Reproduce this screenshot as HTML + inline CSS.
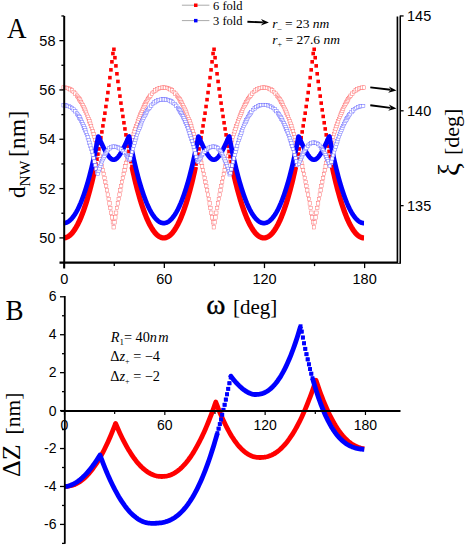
<!DOCTYPE html>
<html><head><meta charset="utf-8"><style>
html,body{margin:0;padding:0;background:#fff;}
body{width:465px;height:545px;position:relative;overflow:hidden;font-family:"Liberation Sans", sans-serif;}
</style></head><body>
<svg width="465" height="545" viewBox="0 0 465 545" style="position:absolute;left:0;top:0"><polyline points="63.60,87.50 64.02,87.50 64.43,87.52 64.85,87.55 65.27,87.59 65.69,87.65 66.10,87.72 66.52,87.81 66.94,87.91 67.36,88.03 67.77,88.17 68.19,88.32 68.61,88.49 69.02,88.68 69.44,88.88 69.86,89.10 70.28,89.34 70.69,89.59 71.11,89.87 71.53,90.16 71.95,90.47 72.36,90.80 72.78,91.14 73.20,91.51 73.61,91.89 74.03,92.30 74.45,92.72 74.87,93.16 75.28,93.62 75.70,94.10 76.12,94.60 76.53,95.12 76.95,95.65 77.37,96.21 77.79,96.79 78.20,97.39 78.62,98.00 79.04,98.64 79.46,99.30 79.87,99.98 80.29,100.67 80.71,101.39 81.12,102.13 81.54,102.89 81.96,103.67 82.38,104.47 82.79,105.29 83.21,106.13 83.63,107.00 84.05,107.88 84.46,108.78 84.88,109.71 85.30,110.66 85.71,111.62 86.13,112.61 86.55,113.62 86.97,114.66 87.38,115.71 87.80,116.78 88.22,117.88 88.64,119.00 89.05,120.14 89.47,121.30 89.89,122.48 90.30,123.69 90.72,124.91 91.14,126.16 91.56,127.43 91.97,128.73 92.39,130.04 92.81,131.38 93.22,132.73 93.64,134.12 94.06,135.52 94.48,136.94 94.89,138.39 95.31,139.86 95.73,141.35 96.15,142.87 96.56,144.41 96.98,145.97 97.40,147.55 97.81,149.15 98.23,150.78 98.65,152.43 99.07,154.11 99.48,155.80 99.90,157.52 100.32,159.26 100.74,161.03 101.15,162.82 101.57,164.63 101.99,166.46 102.40,168.32 102.82,170.20 103.24,172.10 103.66,174.03 104.07,175.98 104.49,177.95 104.91,179.94 105.33,181.96 105.74,184.01 106.16,186.07 106.58,188.16 106.99,190.28 107.41,192.41 107.83,194.57 108.25,196.76 108.66,198.96 109.08,201.19 109.50,203.45 109.91,205.73 110.33,208.03 110.75,210.35 111.17,212.70 111.58,215.08 112.00,217.47 112.42,219.89 112.84,222.34 113.25,224.81 113.67,227.30 114.09,224.81 114.50,222.34 114.92,219.89 115.34,217.47 115.76,215.08 116.17,212.70 116.59,210.35 117.01,208.03 117.43,205.73 117.84,203.45 118.26,201.19 118.68,198.96 119.09,196.76 119.51,194.57 119.93,192.41 120.35,190.28 120.76,188.16 121.18,186.07 121.60,184.01 122.02,181.96 122.43,179.94 122.85,177.95 123.27,175.98 123.68,174.03 124.10,172.10 124.52,170.20 124.94,168.32 125.35,166.46 125.77,164.63 126.19,162.82 126.60,161.03 127.02,159.26 127.44,157.52 127.86,155.80 128.27,154.11 128.69,152.43 129.11,150.78 129.53,149.15 129.94,147.55 130.36,145.97 130.78,144.41 131.19,142.87 131.61,141.35 132.03,139.86 132.45,138.39 132.86,136.94 133.28,135.52 133.70,134.12 134.12,132.73 134.53,131.38 134.95,130.04 135.37,128.73 135.78,127.43 136.20,126.16 136.62,124.91 137.04,123.69 137.45,122.48 137.87,121.30 138.29,120.14 138.71,119.00 139.12,117.88 139.54,116.78 139.96,115.71 140.37,114.66 140.79,113.62 141.21,112.61 141.63,111.62 142.04,110.66 142.46,109.71 142.88,108.78 143.29,107.88 143.71,107.00 144.13,106.13 144.55,105.29 144.96,104.47 145.38,103.67 145.80,102.89 146.22,102.13 146.63,101.39 147.05,100.67 147.47,99.98 147.88,99.30 148.30,98.64 148.72,98.00 149.14,97.39 149.55,96.79 149.97,96.21 150.39,95.65 150.81,95.12 151.22,94.60 151.64,94.10 152.06,93.62 152.47,93.16 152.89,92.72 153.31,92.30 153.73,91.89 154.14,91.51 154.56,91.14 154.98,90.80 155.40,90.47 155.81,90.16 156.23,89.87 156.65,89.59 157.06,89.34 157.48,89.10 157.90,88.88 158.32,88.68 158.73,88.49 159.15,88.32 159.57,88.17 159.98,88.03 160.40,87.91 160.82,87.81 161.24,87.72 161.65,87.65 162.07,87.59 162.49,87.55 162.91,87.52 163.32,87.50 163.74,87.50 164.16,87.50 164.57,87.52 164.99,87.55 165.41,87.59 165.83,87.65 166.24,87.72 166.66,87.81 167.08,87.91 167.50,88.03 167.91,88.17 168.33,88.32 168.75,88.49 169.16,88.68 169.58,88.88 170.00,89.10 170.42,89.34 170.83,89.59 171.25,89.87 171.67,90.16 172.09,90.47 172.50,90.80 172.92,91.14 173.34,91.51 173.75,91.89 174.17,92.30 174.59,92.72 175.01,93.16 175.42,93.62 175.84,94.10 176.26,94.60 176.67,95.12 177.09,95.65 177.51,96.21 177.93,96.79 178.34,97.39 178.76,98.00 179.18,98.64 179.60,99.30 180.01,99.98 180.43,100.67 180.85,101.39 181.26,102.13 181.68,102.89 182.10,103.67 182.52,104.47 182.93,105.29 183.35,106.13 183.77,107.00 184.19,107.88 184.60,108.78 185.02,109.71 185.44,110.66 185.85,111.62 186.27,112.61 186.69,113.62 187.11,114.66 187.52,115.71 187.94,116.78 188.36,117.88 188.78,119.00 189.19,120.14 189.61,121.30 190.03,122.48 190.44,123.69 190.86,124.91 191.28,126.16 191.70,127.43 192.11,128.73 192.53,130.04 192.95,131.38 193.36,132.73 193.78,134.12 194.20,135.52 194.62,136.94 195.03,138.39 195.45,139.86 195.87,141.35 196.29,142.87 196.70,144.41 197.12,145.97 197.54,147.55 197.95,149.15 198.37,150.78 198.79,152.43 199.21,154.11 199.62,155.80 200.04,157.52 200.46,159.26 200.88,161.03 201.29,162.82 201.71,164.63 202.13,166.46 202.54,168.32 202.96,170.20 203.38,172.10 203.80,174.03 204.21,175.98 204.63,177.95 205.05,179.94 205.47,181.96 205.88,184.01 206.30,186.07 206.72,188.16 207.13,190.28 207.55,192.41 207.97,194.57 208.39,196.76 208.80,198.96 209.22,201.19 209.64,203.45 210.05,205.73 210.47,208.03 210.89,210.35 211.31,212.70 211.72,215.08 212.14,217.47 212.56,219.89 212.98,222.34 213.39,224.81 213.81,227.30 214.23,224.81 214.64,222.34 215.06,219.89 215.48,217.47 215.90,215.08 216.31,212.70 216.73,210.35 217.15,208.03 217.57,205.73 217.98,203.45 218.40,201.19 218.82,198.96 219.23,196.76 219.65,194.57 220.07,192.41 220.49,190.28 220.90,188.16 221.32,186.07 221.74,184.01 222.16,181.96 222.57,179.94 222.99,177.95 223.41,175.98 223.82,174.03 224.24,172.10 224.66,170.20 225.08,168.32 225.49,166.46 225.91,164.63 226.33,162.82 226.74,161.03 227.16,159.26 227.58,157.52 228.00,155.80 228.41,154.11 228.83,152.43 229.25,150.78 229.67,149.15 230.08,147.55 230.50,145.97 230.92,144.41 231.33,142.87 231.75,141.35 232.17,139.86 232.59,138.39 233.00,136.94 233.42,135.52 233.84,134.12 234.26,132.73 234.67,131.38 235.09,130.04 235.51,128.73 235.92,127.43 236.34,126.16 236.76,124.91 237.18,123.69 237.59,122.48 238.01,121.30 238.43,120.14 238.84,119.00 239.26,117.88 239.68,116.78 240.10,115.71 240.51,114.66 240.93,113.62 241.35,112.61 241.77,111.62 242.18,110.66 242.60,109.71 243.02,108.78 243.43,107.88 243.85,107.00 244.27,106.13 244.69,105.29 245.10,104.47 245.52,103.67 245.94,102.89 246.36,102.13 246.77,101.39 247.19,100.67 247.61,99.98 248.02,99.30 248.44,98.64 248.86,98.00 249.28,97.39 249.69,96.79 250.11,96.21 250.53,95.65 250.95,95.12 251.36,94.60 251.78,94.10 252.20,93.62 252.61,93.16 253.03,92.72 253.45,92.30 253.87,91.89 254.28,91.51 254.70,91.14 255.12,90.80 255.53,90.47 255.95,90.16 256.37,89.87 256.79,89.59 257.20,89.34 257.62,89.10 258.04,88.88 258.46,88.68 258.87,88.49 259.29,88.32 259.71,88.17 260.12,88.03 260.54,87.91 260.96,87.81 261.38,87.72 261.79,87.65 262.21,87.59 262.63,87.55 263.05,87.52 263.46,87.50 263.88,87.50 264.30,87.50 264.71,87.52 265.13,87.55 265.55,87.59 265.97,87.65 266.38,87.72 266.80,87.81 267.22,87.91 267.64,88.03 268.05,88.17 268.47,88.32 268.89,88.49 269.30,88.68 269.72,88.88 270.14,89.10 270.56,89.34 270.97,89.59 271.39,89.87 271.81,90.16 272.23,90.47 272.64,90.80 273.06,91.14 273.48,91.51 273.89,91.89 274.31,92.30 274.73,92.72 275.15,93.16 275.56,93.62 275.98,94.10 276.40,94.60 276.81,95.12 277.23,95.65 277.65,96.21 278.07,96.79 278.48,97.39 278.90,98.00 279.32,98.64 279.74,99.30 280.15,99.98 280.57,100.67 280.99,101.39 281.40,102.13 281.82,102.89 282.24,103.67 282.66,104.47 283.07,105.29 283.49,106.13 283.91,107.00 284.33,107.88 284.74,108.78 285.16,109.71 285.58,110.66 285.99,111.62 286.41,112.61 286.83,113.62 287.25,114.66 287.66,115.71 288.08,116.78 288.50,117.88 288.92,119.00 289.33,120.14 289.75,121.30 290.17,122.48 290.58,123.69 291.00,124.91 291.42,126.16 291.84,127.43 292.25,128.73 292.67,130.04 293.09,131.38 293.50,132.73 293.92,134.12 294.34,135.52 294.76,136.94 295.17,138.39 295.59,139.86 296.01,141.35 296.43,142.87 296.84,144.41 297.26,145.97 297.68,147.55 298.09,149.15 298.51,150.78 298.93,152.43 299.35,154.11 299.76,155.80 300.18,157.52 300.60,159.26 301.02,161.03 301.43,162.82 301.85,164.63 302.27,166.46 302.68,168.32 303.10,170.20 303.52,172.10 303.94,174.03 304.35,175.98 304.77,177.95 305.19,179.94 305.61,181.96 306.02,184.01 306.44,186.07 306.86,188.16 307.27,190.28 307.69,192.41 308.11,194.57 308.53,196.76 308.94,198.96 309.36,201.19 309.78,203.45 310.19,205.73 310.61,208.03 311.03,210.35 311.45,212.70 311.86,215.08 312.28,217.47 312.70,219.89 313.12,222.34 313.53,224.81 313.95,227.30 314.37,224.81 314.78,222.34 315.20,219.89 315.62,217.47 316.04,215.08 316.45,212.70 316.87,210.35 317.29,208.03 317.71,205.73 318.12,203.45 318.54,201.19 318.96,198.96 319.37,196.76 319.79,194.57 320.21,192.41 320.63,190.28 321.04,188.16 321.46,186.07 321.88,184.01 322.30,181.96 322.71,179.94 323.13,177.95 323.55,175.98 323.96,174.03 324.38,172.10 324.80,170.20 325.22,168.32 325.63,166.46 326.05,164.63 326.47,162.82 326.88,161.03 327.30,159.26 327.72,157.52 328.14,155.80 328.55,154.11 328.97,152.43 329.39,150.78 329.81,149.15 330.22,147.55 330.64,145.97 331.06,144.41 331.47,142.87 331.89,141.35 332.31,139.86 332.73,138.39 333.14,136.94 333.56,135.52 333.98,134.12 334.40,132.73 334.81,131.38 335.23,130.04 335.65,128.73 336.06,127.43 336.48,126.16 336.90,124.91 337.32,123.69 337.73,122.48 338.15,121.30 338.57,120.14 338.99,119.00 339.40,117.88 339.82,116.78 340.24,115.71 340.65,114.66 341.07,113.62 341.49,112.61 341.91,111.62 342.32,110.66 342.74,109.71 343.16,108.78 343.57,107.88 343.99,107.00 344.41,106.13 344.83,105.29 345.24,104.47 345.66,103.67 346.08,102.89 346.50,102.13 346.91,101.39 347.33,100.67 347.75,99.98 348.16,99.30 348.58,98.64 349.00,98.00 349.42,97.39 349.83,96.79 350.25,96.21 350.67,95.65 351.09,95.12 351.50,94.60 351.92,94.10 352.34,93.62 352.75,93.16 353.17,92.72 353.59,92.30 354.01,91.89 354.42,91.51 354.84,91.14 355.26,90.80 355.68,90.47 356.09,90.16 356.51,89.87 356.93,89.59 357.34,89.34 357.76,89.10 358.18,88.88 358.60,88.68 359.01,88.49 359.43,88.32 359.85,88.17 360.26,88.03 360.68,87.91 361.10,87.81 361.52,87.72 361.93,87.65 362.35,87.59 362.77,87.55 363.19,87.52 363.60,87.50 364.02,87.50" fill="none" stroke="#8a8aff" stroke-width="0.6" stroke-linejoin="round" stroke-dasharray="1 3"/><rect x="61.90" y="85.80" width="3.40" height="3.40" fill="#fff" stroke="#ff6060" stroke-width="0.45"/><rect x="63.57" y="85.89" width="3.40" height="3.40" fill="#fff" stroke="#ff6060" stroke-width="0.45"/><rect x="65.24" y="86.21" width="3.40" height="3.40" fill="#fff" stroke="#ff6060" stroke-width="0.45"/><rect x="66.91" y="86.79" width="3.40" height="3.40" fill="#fff" stroke="#ff6060" stroke-width="0.45"/><rect x="68.58" y="87.64" width="3.40" height="3.40" fill="#fff" stroke="#ff6060" stroke-width="0.45"/><rect x="70.25" y="88.77" width="3.40" height="3.40" fill="#fff" stroke="#ff6060" stroke-width="0.45"/><rect x="71.91" y="90.19" width="3.40" height="3.40" fill="#fff" stroke="#ff6060" stroke-width="0.45"/><rect x="73.58" y="91.92" width="3.40" height="3.40" fill="#fff" stroke="#ff6060" stroke-width="0.45"/><rect x="75.25" y="93.95" width="3.40" height="3.40" fill="#fff" stroke="#ff6060" stroke-width="0.45"/><rect x="76.09" y="95.09" width="3.40" height="3.40" fill="#fff" stroke="#ff6060" stroke-width="0.45"/><rect x="76.92" y="96.30" width="3.40" height="3.40" fill="#fff" stroke="#ff6060" stroke-width="0.45"/><rect x="77.76" y="97.60" width="3.40" height="3.40" fill="#fff" stroke="#ff6060" stroke-width="0.45"/><rect x="78.59" y="98.97" width="3.40" height="3.40" fill="#fff" stroke="#ff6060" stroke-width="0.45"/><rect x="79.42" y="100.43" width="3.40" height="3.40" fill="#fff" stroke="#ff6060" stroke-width="0.45"/><rect x="80.26" y="101.97" width="3.40" height="3.40" fill="#fff" stroke="#ff6060" stroke-width="0.45"/><rect x="81.09" y="103.59" width="3.40" height="3.40" fill="#fff" stroke="#ff6060" stroke-width="0.45"/><rect x="81.93" y="105.30" width="3.40" height="3.40" fill="#fff" stroke="#ff6060" stroke-width="0.45"/><rect x="82.76" y="107.08" width="3.40" height="3.40" fill="#fff" stroke="#ff6060" stroke-width="0.45"/><rect x="83.60" y="108.96" width="3.40" height="3.40" fill="#fff" stroke="#ff6060" stroke-width="0.45"/><rect x="84.43" y="110.91" width="3.40" height="3.40" fill="#fff" stroke="#ff6060" stroke-width="0.45"/><rect x="85.27" y="112.96" width="3.40" height="3.40" fill="#fff" stroke="#ff6060" stroke-width="0.45"/><rect x="86.10" y="115.08" width="3.40" height="3.40" fill="#fff" stroke="#ff6060" stroke-width="0.45"/><rect x="86.94" y="117.30" width="3.40" height="3.40" fill="#fff" stroke="#ff6060" stroke-width="0.45"/><rect x="87.77" y="119.60" width="3.40" height="3.40" fill="#fff" stroke="#ff6060" stroke-width="0.45"/><rect x="88.60" y="121.99" width="3.40" height="3.40" fill="#fff" stroke="#ff6060" stroke-width="0.45"/><rect x="89.44" y="124.46" width="3.40" height="3.40" fill="#fff" stroke="#ff6060" stroke-width="0.45"/><rect x="90.27" y="127.03" width="3.40" height="3.40" fill="#fff" stroke="#ff6060" stroke-width="0.45"/><rect x="91.11" y="129.68" width="3.40" height="3.40" fill="#fff" stroke="#ff6060" stroke-width="0.45"/><rect x="91.94" y="132.42" width="3.40" height="3.40" fill="#fff" stroke="#ff6060" stroke-width="0.45"/><rect x="92.78" y="135.24" width="3.40" height="3.40" fill="#fff" stroke="#ff6060" stroke-width="0.45"/><rect x="93.61" y="138.16" width="3.40" height="3.40" fill="#fff" stroke="#ff6060" stroke-width="0.45"/><rect x="94.45" y="141.17" width="3.40" height="3.40" fill="#fff" stroke="#ff6060" stroke-width="0.45"/><rect x="95.28" y="144.27" width="3.40" height="3.40" fill="#fff" stroke="#ff6060" stroke-width="0.45"/><rect x="96.11" y="147.45" width="3.40" height="3.40" fill="#fff" stroke="#ff6060" stroke-width="0.45"/><rect x="96.95" y="150.73" width="3.40" height="3.40" fill="#fff" stroke="#ff6060" stroke-width="0.45"/><rect x="97.78" y="154.10" width="3.40" height="3.40" fill="#fff" stroke="#ff6060" stroke-width="0.45"/><rect x="98.62" y="157.56" width="3.40" height="3.40" fill="#fff" stroke="#ff6060" stroke-width="0.45"/><rect x="99.45" y="161.12" width="3.40" height="3.40" fill="#fff" stroke="#ff6060" stroke-width="0.45"/><rect x="100.29" y="164.76" width="3.40" height="3.40" fill="#fff" stroke="#ff6060" stroke-width="0.45"/><rect x="101.12" y="168.50" width="3.40" height="3.40" fill="#fff" stroke="#ff6060" stroke-width="0.45"/><rect x="101.96" y="172.33" width="3.40" height="3.40" fill="#fff" stroke="#ff6060" stroke-width="0.45"/><rect x="102.79" y="176.25" width="3.40" height="3.40" fill="#fff" stroke="#ff6060" stroke-width="0.45"/><rect x="103.62" y="180.26" width="3.40" height="3.40" fill="#fff" stroke="#ff6060" stroke-width="0.45"/><rect x="104.46" y="184.37" width="3.40" height="3.40" fill="#fff" stroke="#ff6060" stroke-width="0.45"/><rect x="105.29" y="188.58" width="3.40" height="3.40" fill="#fff" stroke="#ff6060" stroke-width="0.45"/><rect x="106.13" y="192.87" width="3.40" height="3.40" fill="#fff" stroke="#ff6060" stroke-width="0.45"/><rect x="106.96" y="197.26" width="3.40" height="3.40" fill="#fff" stroke="#ff6060" stroke-width="0.45"/><rect x="107.80" y="201.75" width="3.40" height="3.40" fill="#fff" stroke="#ff6060" stroke-width="0.45"/><rect x="108.63" y="206.33" width="3.40" height="3.40" fill="#fff" stroke="#ff6060" stroke-width="0.45"/><rect x="109.47" y="211.00" width="3.40" height="3.40" fill="#fff" stroke="#ff6060" stroke-width="0.45"/><rect x="110.30" y="215.77" width="3.40" height="3.40" fill="#fff" stroke="#ff6060" stroke-width="0.45"/><rect x="111.14" y="220.64" width="3.40" height="3.40" fill="#fff" stroke="#ff6060" stroke-width="0.45"/><rect x="111.97" y="225.60" width="3.40" height="3.40" fill="#fff" stroke="#ff6060" stroke-width="0.45"/><rect x="112.80" y="220.64" width="3.40" height="3.40" fill="#fff" stroke="#ff6060" stroke-width="0.45"/><rect x="113.64" y="215.77" width="3.40" height="3.40" fill="#fff" stroke="#ff6060" stroke-width="0.45"/><rect x="114.47" y="211.00" width="3.40" height="3.40" fill="#fff" stroke="#ff6060" stroke-width="0.45"/><rect x="115.31" y="206.33" width="3.40" height="3.40" fill="#fff" stroke="#ff6060" stroke-width="0.45"/><rect x="116.14" y="201.75" width="3.40" height="3.40" fill="#fff" stroke="#ff6060" stroke-width="0.45"/><rect x="116.98" y="197.26" width="3.40" height="3.40" fill="#fff" stroke="#ff6060" stroke-width="0.45"/><rect x="117.81" y="192.87" width="3.40" height="3.40" fill="#fff" stroke="#ff6060" stroke-width="0.45"/><rect x="118.65" y="188.58" width="3.40" height="3.40" fill="#fff" stroke="#ff6060" stroke-width="0.45"/><rect x="119.48" y="184.37" width="3.40" height="3.40" fill="#fff" stroke="#ff6060" stroke-width="0.45"/><rect x="120.31" y="180.26" width="3.40" height="3.40" fill="#fff" stroke="#ff6060" stroke-width="0.45"/><rect x="121.15" y="176.25" width="3.40" height="3.40" fill="#fff" stroke="#ff6060" stroke-width="0.45"/><rect x="121.98" y="172.33" width="3.40" height="3.40" fill="#fff" stroke="#ff6060" stroke-width="0.45"/><rect x="122.82" y="168.50" width="3.40" height="3.40" fill="#fff" stroke="#ff6060" stroke-width="0.45"/><rect x="123.65" y="164.76" width="3.40" height="3.40" fill="#fff" stroke="#ff6060" stroke-width="0.45"/><rect x="124.49" y="161.12" width="3.40" height="3.40" fill="#fff" stroke="#ff6060" stroke-width="0.45"/><rect x="125.32" y="157.56" width="3.40" height="3.40" fill="#fff" stroke="#ff6060" stroke-width="0.45"/><rect x="126.16" y="154.10" width="3.40" height="3.40" fill="#fff" stroke="#ff6060" stroke-width="0.45"/><rect x="126.99" y="150.73" width="3.40" height="3.40" fill="#fff" stroke="#ff6060" stroke-width="0.45"/><rect x="127.83" y="147.45" width="3.40" height="3.40" fill="#fff" stroke="#ff6060" stroke-width="0.45"/><rect x="128.66" y="144.27" width="3.40" height="3.40" fill="#fff" stroke="#ff6060" stroke-width="0.45"/><rect x="129.49" y="141.17" width="3.40" height="3.40" fill="#fff" stroke="#ff6060" stroke-width="0.45"/><rect x="130.33" y="138.16" width="3.40" height="3.40" fill="#fff" stroke="#ff6060" stroke-width="0.45"/><rect x="131.16" y="135.24" width="3.40" height="3.40" fill="#fff" stroke="#ff6060" stroke-width="0.45"/><rect x="132.00" y="132.42" width="3.40" height="3.40" fill="#fff" stroke="#ff6060" stroke-width="0.45"/><rect x="132.83" y="129.68" width="3.40" height="3.40" fill="#fff" stroke="#ff6060" stroke-width="0.45"/><rect x="133.67" y="127.03" width="3.40" height="3.40" fill="#fff" stroke="#ff6060" stroke-width="0.45"/><rect x="134.50" y="124.46" width="3.40" height="3.40" fill="#fff" stroke="#ff6060" stroke-width="0.45"/><rect x="135.34" y="121.99" width="3.40" height="3.40" fill="#fff" stroke="#ff6060" stroke-width="0.45"/><rect x="136.17" y="119.60" width="3.40" height="3.40" fill="#fff" stroke="#ff6060" stroke-width="0.45"/><rect x="137.01" y="117.30" width="3.40" height="3.40" fill="#fff" stroke="#ff6060" stroke-width="0.45"/><rect x="137.84" y="115.08" width="3.40" height="3.40" fill="#fff" stroke="#ff6060" stroke-width="0.45"/><rect x="138.67" y="112.96" width="3.40" height="3.40" fill="#fff" stroke="#ff6060" stroke-width="0.45"/><rect x="139.51" y="110.91" width="3.40" height="3.40" fill="#fff" stroke="#ff6060" stroke-width="0.45"/><rect x="140.34" y="108.96" width="3.40" height="3.40" fill="#fff" stroke="#ff6060" stroke-width="0.45"/><rect x="141.18" y="107.08" width="3.40" height="3.40" fill="#fff" stroke="#ff6060" stroke-width="0.45"/><rect x="142.01" y="105.30" width="3.40" height="3.40" fill="#fff" stroke="#ff6060" stroke-width="0.45"/><rect x="142.85" y="103.59" width="3.40" height="3.40" fill="#fff" stroke="#ff6060" stroke-width="0.45"/><rect x="143.68" y="101.97" width="3.40" height="3.40" fill="#fff" stroke="#ff6060" stroke-width="0.45"/><rect x="144.52" y="100.43" width="3.40" height="3.40" fill="#fff" stroke="#ff6060" stroke-width="0.45"/><rect x="145.35" y="98.97" width="3.40" height="3.40" fill="#fff" stroke="#ff6060" stroke-width="0.45"/><rect x="146.18" y="97.60" width="3.40" height="3.40" fill="#fff" stroke="#ff6060" stroke-width="0.45"/><rect x="147.02" y="96.30" width="3.40" height="3.40" fill="#fff" stroke="#ff6060" stroke-width="0.45"/><rect x="147.85" y="95.09" width="3.40" height="3.40" fill="#fff" stroke="#ff6060" stroke-width="0.45"/><rect x="148.69" y="93.95" width="3.40" height="3.40" fill="#fff" stroke="#ff6060" stroke-width="0.45"/><rect x="150.36" y="91.92" width="3.40" height="3.40" fill="#fff" stroke="#ff6060" stroke-width="0.45"/><rect x="152.03" y="90.19" width="3.40" height="3.40" fill="#fff" stroke="#ff6060" stroke-width="0.45"/><rect x="153.70" y="88.77" width="3.40" height="3.40" fill="#fff" stroke="#ff6060" stroke-width="0.45"/><rect x="155.36" y="87.64" width="3.40" height="3.40" fill="#fff" stroke="#ff6060" stroke-width="0.45"/><rect x="157.03" y="86.79" width="3.40" height="3.40" fill="#fff" stroke="#ff6060" stroke-width="0.45"/><rect x="158.70" y="86.21" width="3.40" height="3.40" fill="#fff" stroke="#ff6060" stroke-width="0.45"/><rect x="160.37" y="85.89" width="3.40" height="3.40" fill="#fff" stroke="#ff6060" stroke-width="0.45"/><rect x="162.04" y="85.80" width="3.40" height="3.40" fill="#fff" stroke="#ff6060" stroke-width="0.45"/><rect x="163.71" y="85.89" width="3.40" height="3.40" fill="#fff" stroke="#ff6060" stroke-width="0.45"/><rect x="165.38" y="86.21" width="3.40" height="3.40" fill="#fff" stroke="#ff6060" stroke-width="0.45"/><rect x="167.05" y="86.79" width="3.40" height="3.40" fill="#fff" stroke="#ff6060" stroke-width="0.45"/><rect x="168.72" y="87.64" width="3.40" height="3.40" fill="#fff" stroke="#ff6060" stroke-width="0.45"/><rect x="170.39" y="88.77" width="3.40" height="3.40" fill="#fff" stroke="#ff6060" stroke-width="0.45"/><rect x="172.05" y="90.19" width="3.40" height="3.40" fill="#fff" stroke="#ff6060" stroke-width="0.45"/><rect x="173.72" y="91.92" width="3.40" height="3.40" fill="#fff" stroke="#ff6060" stroke-width="0.45"/><rect x="175.39" y="93.95" width="3.40" height="3.40" fill="#fff" stroke="#ff6060" stroke-width="0.45"/><rect x="176.23" y="95.09" width="3.40" height="3.40" fill="#fff" stroke="#ff6060" stroke-width="0.45"/><rect x="177.06" y="96.30" width="3.40" height="3.40" fill="#fff" stroke="#ff6060" stroke-width="0.45"/><rect x="177.90" y="97.60" width="3.40" height="3.40" fill="#fff" stroke="#ff6060" stroke-width="0.45"/><rect x="178.73" y="98.97" width="3.40" height="3.40" fill="#fff" stroke="#ff6060" stroke-width="0.45"/><rect x="179.56" y="100.43" width="3.40" height="3.40" fill="#fff" stroke="#ff6060" stroke-width="0.45"/><rect x="180.40" y="101.97" width="3.40" height="3.40" fill="#fff" stroke="#ff6060" stroke-width="0.45"/><rect x="181.23" y="103.59" width="3.40" height="3.40" fill="#fff" stroke="#ff6060" stroke-width="0.45"/><rect x="182.07" y="105.30" width="3.40" height="3.40" fill="#fff" stroke="#ff6060" stroke-width="0.45"/><rect x="182.90" y="107.08" width="3.40" height="3.40" fill="#fff" stroke="#ff6060" stroke-width="0.45"/><rect x="183.74" y="108.96" width="3.40" height="3.40" fill="#fff" stroke="#ff6060" stroke-width="0.45"/><rect x="184.57" y="110.91" width="3.40" height="3.40" fill="#fff" stroke="#ff6060" stroke-width="0.45"/><rect x="185.41" y="112.96" width="3.40" height="3.40" fill="#fff" stroke="#ff6060" stroke-width="0.45"/><rect x="186.24" y="115.08" width="3.40" height="3.40" fill="#fff" stroke="#ff6060" stroke-width="0.45"/><rect x="187.08" y="117.30" width="3.40" height="3.40" fill="#fff" stroke="#ff6060" stroke-width="0.45"/><rect x="187.91" y="119.60" width="3.40" height="3.40" fill="#fff" stroke="#ff6060" stroke-width="0.45"/><rect x="188.74" y="121.99" width="3.40" height="3.40" fill="#fff" stroke="#ff6060" stroke-width="0.45"/><rect x="189.58" y="124.46" width="3.40" height="3.40" fill="#fff" stroke="#ff6060" stroke-width="0.45"/><rect x="190.41" y="127.03" width="3.40" height="3.40" fill="#fff" stroke="#ff6060" stroke-width="0.45"/><rect x="191.25" y="129.68" width="3.40" height="3.40" fill="#fff" stroke="#ff6060" stroke-width="0.45"/><rect x="192.08" y="132.42" width="3.40" height="3.40" fill="#fff" stroke="#ff6060" stroke-width="0.45"/><rect x="192.92" y="135.24" width="3.40" height="3.40" fill="#fff" stroke="#ff6060" stroke-width="0.45"/><rect x="193.75" y="138.16" width="3.40" height="3.40" fill="#fff" stroke="#ff6060" stroke-width="0.45"/><rect x="194.59" y="141.17" width="3.40" height="3.40" fill="#fff" stroke="#ff6060" stroke-width="0.45"/><rect x="195.42" y="144.27" width="3.40" height="3.40" fill="#fff" stroke="#ff6060" stroke-width="0.45"/><rect x="196.25" y="147.45" width="3.40" height="3.40" fill="#fff" stroke="#ff6060" stroke-width="0.45"/><rect x="197.09" y="150.73" width="3.40" height="3.40" fill="#fff" stroke="#ff6060" stroke-width="0.45"/><rect x="197.92" y="154.10" width="3.40" height="3.40" fill="#fff" stroke="#ff6060" stroke-width="0.45"/><rect x="198.76" y="157.56" width="3.40" height="3.40" fill="#fff" stroke="#ff6060" stroke-width="0.45"/><rect x="199.59" y="161.12" width="3.40" height="3.40" fill="#fff" stroke="#ff6060" stroke-width="0.45"/><rect x="200.43" y="164.76" width="3.40" height="3.40" fill="#fff" stroke="#ff6060" stroke-width="0.45"/><rect x="201.26" y="168.50" width="3.40" height="3.40" fill="#fff" stroke="#ff6060" stroke-width="0.45"/><rect x="202.10" y="172.33" width="3.40" height="3.40" fill="#fff" stroke="#ff6060" stroke-width="0.45"/><rect x="202.93" y="176.25" width="3.40" height="3.40" fill="#fff" stroke="#ff6060" stroke-width="0.45"/><rect x="203.77" y="180.26" width="3.40" height="3.40" fill="#fff" stroke="#ff6060" stroke-width="0.45"/><rect x="204.60" y="184.37" width="3.40" height="3.40" fill="#fff" stroke="#ff6060" stroke-width="0.45"/><rect x="205.43" y="188.58" width="3.40" height="3.40" fill="#fff" stroke="#ff6060" stroke-width="0.45"/><rect x="206.27" y="192.87" width="3.40" height="3.40" fill="#fff" stroke="#ff6060" stroke-width="0.45"/><rect x="207.10" y="197.26" width="3.40" height="3.40" fill="#fff" stroke="#ff6060" stroke-width="0.45"/><rect x="207.94" y="201.75" width="3.40" height="3.40" fill="#fff" stroke="#ff6060" stroke-width="0.45"/><rect x="208.77" y="206.33" width="3.40" height="3.40" fill="#fff" stroke="#ff6060" stroke-width="0.45"/><rect x="209.61" y="211.00" width="3.40" height="3.40" fill="#fff" stroke="#ff6060" stroke-width="0.45"/><rect x="210.44" y="215.77" width="3.40" height="3.40" fill="#fff" stroke="#ff6060" stroke-width="0.45"/><rect x="211.28" y="220.64" width="3.40" height="3.40" fill="#fff" stroke="#ff6060" stroke-width="0.45"/><rect x="212.11" y="225.60" width="3.40" height="3.40" fill="#fff" stroke="#ff6060" stroke-width="0.45"/><rect x="212.94" y="220.64" width="3.40" height="3.40" fill="#fff" stroke="#ff6060" stroke-width="0.45"/><rect x="213.78" y="215.77" width="3.40" height="3.40" fill="#fff" stroke="#ff6060" stroke-width="0.45"/><rect x="214.61" y="211.00" width="3.40" height="3.40" fill="#fff" stroke="#ff6060" stroke-width="0.45"/><rect x="215.45" y="206.33" width="3.40" height="3.40" fill="#fff" stroke="#ff6060" stroke-width="0.45"/><rect x="216.28" y="201.75" width="3.40" height="3.40" fill="#fff" stroke="#ff6060" stroke-width="0.45"/><rect x="217.12" y="197.26" width="3.40" height="3.40" fill="#fff" stroke="#ff6060" stroke-width="0.45"/><rect x="217.95" y="192.87" width="3.40" height="3.40" fill="#fff" stroke="#ff6060" stroke-width="0.45"/><rect x="218.79" y="188.58" width="3.40" height="3.40" fill="#fff" stroke="#ff6060" stroke-width="0.45"/><rect x="219.62" y="184.37" width="3.40" height="3.40" fill="#fff" stroke="#ff6060" stroke-width="0.45"/><rect x="220.46" y="180.26" width="3.40" height="3.40" fill="#fff" stroke="#ff6060" stroke-width="0.45"/><rect x="221.29" y="176.25" width="3.40" height="3.40" fill="#fff" stroke="#ff6060" stroke-width="0.45"/><rect x="222.12" y="172.33" width="3.40" height="3.40" fill="#fff" stroke="#ff6060" stroke-width="0.45"/><rect x="222.96" y="168.50" width="3.40" height="3.40" fill="#fff" stroke="#ff6060" stroke-width="0.45"/><rect x="223.79" y="164.76" width="3.40" height="3.40" fill="#fff" stroke="#ff6060" stroke-width="0.45"/><rect x="224.63" y="161.12" width="3.40" height="3.40" fill="#fff" stroke="#ff6060" stroke-width="0.45"/><rect x="225.46" y="157.56" width="3.40" height="3.40" fill="#fff" stroke="#ff6060" stroke-width="0.45"/><rect x="226.30" y="154.10" width="3.40" height="3.40" fill="#fff" stroke="#ff6060" stroke-width="0.45"/><rect x="227.13" y="150.73" width="3.40" height="3.40" fill="#fff" stroke="#ff6060" stroke-width="0.45"/><rect x="227.97" y="147.45" width="3.40" height="3.40" fill="#fff" stroke="#ff6060" stroke-width="0.45"/><rect x="228.80" y="144.27" width="3.40" height="3.40" fill="#fff" stroke="#ff6060" stroke-width="0.45"/><rect x="229.63" y="141.17" width="3.40" height="3.40" fill="#fff" stroke="#ff6060" stroke-width="0.45"/><rect x="230.47" y="138.16" width="3.40" height="3.40" fill="#fff" stroke="#ff6060" stroke-width="0.45"/><rect x="231.30" y="135.24" width="3.40" height="3.40" fill="#fff" stroke="#ff6060" stroke-width="0.45"/><rect x="232.14" y="132.42" width="3.40" height="3.40" fill="#fff" stroke="#ff6060" stroke-width="0.45"/><rect x="232.97" y="129.68" width="3.40" height="3.40" fill="#fff" stroke="#ff6060" stroke-width="0.45"/><rect x="233.81" y="127.03" width="3.40" height="3.40" fill="#fff" stroke="#ff6060" stroke-width="0.45"/><rect x="234.64" y="124.46" width="3.40" height="3.40" fill="#fff" stroke="#ff6060" stroke-width="0.45"/><rect x="235.48" y="121.99" width="3.40" height="3.40" fill="#fff" stroke="#ff6060" stroke-width="0.45"/><rect x="236.31" y="119.60" width="3.40" height="3.40" fill="#fff" stroke="#ff6060" stroke-width="0.45"/><rect x="237.15" y="117.30" width="3.40" height="3.40" fill="#fff" stroke="#ff6060" stroke-width="0.45"/><rect x="237.98" y="115.08" width="3.40" height="3.40" fill="#fff" stroke="#ff6060" stroke-width="0.45"/><rect x="238.81" y="112.96" width="3.40" height="3.40" fill="#fff" stroke="#ff6060" stroke-width="0.45"/><rect x="239.65" y="110.91" width="3.40" height="3.40" fill="#fff" stroke="#ff6060" stroke-width="0.45"/><rect x="240.48" y="108.96" width="3.40" height="3.40" fill="#fff" stroke="#ff6060" stroke-width="0.45"/><rect x="241.32" y="107.08" width="3.40" height="3.40" fill="#fff" stroke="#ff6060" stroke-width="0.45"/><rect x="242.15" y="105.30" width="3.40" height="3.40" fill="#fff" stroke="#ff6060" stroke-width="0.45"/><rect x="242.99" y="103.59" width="3.40" height="3.40" fill="#fff" stroke="#ff6060" stroke-width="0.45"/><rect x="243.82" y="101.97" width="3.40" height="3.40" fill="#fff" stroke="#ff6060" stroke-width="0.45"/><rect x="244.66" y="100.43" width="3.40" height="3.40" fill="#fff" stroke="#ff6060" stroke-width="0.45"/><rect x="245.49" y="98.97" width="3.40" height="3.40" fill="#fff" stroke="#ff6060" stroke-width="0.45"/><rect x="246.32" y="97.60" width="3.40" height="3.40" fill="#fff" stroke="#ff6060" stroke-width="0.45"/><rect x="247.16" y="96.30" width="3.40" height="3.40" fill="#fff" stroke="#ff6060" stroke-width="0.45"/><rect x="247.99" y="95.09" width="3.40" height="3.40" fill="#fff" stroke="#ff6060" stroke-width="0.45"/><rect x="248.83" y="93.95" width="3.40" height="3.40" fill="#fff" stroke="#ff6060" stroke-width="0.45"/><rect x="250.50" y="91.92" width="3.40" height="3.40" fill="#fff" stroke="#ff6060" stroke-width="0.45"/><rect x="252.17" y="90.19" width="3.40" height="3.40" fill="#fff" stroke="#ff6060" stroke-width="0.45"/><rect x="253.84" y="88.77" width="3.40" height="3.40" fill="#fff" stroke="#ff6060" stroke-width="0.45"/><rect x="255.50" y="87.64" width="3.40" height="3.40" fill="#fff" stroke="#ff6060" stroke-width="0.45"/><rect x="257.17" y="86.79" width="3.40" height="3.40" fill="#fff" stroke="#ff6060" stroke-width="0.45"/><rect x="258.84" y="86.21" width="3.40" height="3.40" fill="#fff" stroke="#ff6060" stroke-width="0.45"/><rect x="260.51" y="85.89" width="3.40" height="3.40" fill="#fff" stroke="#ff6060" stroke-width="0.45"/><rect x="262.18" y="85.80" width="3.40" height="3.40" fill="#fff" stroke="#ff6060" stroke-width="0.45"/><rect x="263.85" y="85.89" width="3.40" height="3.40" fill="#fff" stroke="#ff6060" stroke-width="0.45"/><rect x="265.52" y="86.21" width="3.40" height="3.40" fill="#fff" stroke="#ff6060" stroke-width="0.45"/><rect x="267.19" y="86.79" width="3.40" height="3.40" fill="#fff" stroke="#ff6060" stroke-width="0.45"/><rect x="268.86" y="87.64" width="3.40" height="3.40" fill="#fff" stroke="#ff6060" stroke-width="0.45"/><rect x="270.53" y="88.77" width="3.40" height="3.40" fill="#fff" stroke="#ff6060" stroke-width="0.45"/><rect x="272.19" y="90.19" width="3.40" height="3.40" fill="#fff" stroke="#ff6060" stroke-width="0.45"/><rect x="273.86" y="91.92" width="3.40" height="3.40" fill="#fff" stroke="#ff6060" stroke-width="0.45"/><rect x="275.53" y="93.95" width="3.40" height="3.40" fill="#fff" stroke="#ff6060" stroke-width="0.45"/><rect x="276.37" y="95.09" width="3.40" height="3.40" fill="#fff" stroke="#ff6060" stroke-width="0.45"/><rect x="277.20" y="96.30" width="3.40" height="3.40" fill="#fff" stroke="#ff6060" stroke-width="0.45"/><rect x="278.04" y="97.60" width="3.40" height="3.40" fill="#fff" stroke="#ff6060" stroke-width="0.45"/><rect x="278.87" y="98.97" width="3.40" height="3.40" fill="#fff" stroke="#ff6060" stroke-width="0.45"/><rect x="279.70" y="100.43" width="3.40" height="3.40" fill="#fff" stroke="#ff6060" stroke-width="0.45"/><rect x="280.54" y="101.97" width="3.40" height="3.40" fill="#fff" stroke="#ff6060" stroke-width="0.45"/><rect x="281.37" y="103.59" width="3.40" height="3.40" fill="#fff" stroke="#ff6060" stroke-width="0.45"/><rect x="282.21" y="105.30" width="3.40" height="3.40" fill="#fff" stroke="#ff6060" stroke-width="0.45"/><rect x="283.04" y="107.08" width="3.40" height="3.40" fill="#fff" stroke="#ff6060" stroke-width="0.45"/><rect x="283.88" y="108.96" width="3.40" height="3.40" fill="#fff" stroke="#ff6060" stroke-width="0.45"/><rect x="284.71" y="110.91" width="3.40" height="3.40" fill="#fff" stroke="#ff6060" stroke-width="0.45"/><rect x="285.55" y="112.96" width="3.40" height="3.40" fill="#fff" stroke="#ff6060" stroke-width="0.45"/><rect x="286.38" y="115.08" width="3.40" height="3.40" fill="#fff" stroke="#ff6060" stroke-width="0.45"/><rect x="287.22" y="117.30" width="3.40" height="3.40" fill="#fff" stroke="#ff6060" stroke-width="0.45"/><rect x="288.05" y="119.60" width="3.40" height="3.40" fill="#fff" stroke="#ff6060" stroke-width="0.45"/><rect x="288.88" y="121.99" width="3.40" height="3.40" fill="#fff" stroke="#ff6060" stroke-width="0.45"/><rect x="289.72" y="124.46" width="3.40" height="3.40" fill="#fff" stroke="#ff6060" stroke-width="0.45"/><rect x="290.55" y="127.03" width="3.40" height="3.40" fill="#fff" stroke="#ff6060" stroke-width="0.45"/><rect x="291.39" y="129.68" width="3.40" height="3.40" fill="#fff" stroke="#ff6060" stroke-width="0.45"/><rect x="292.22" y="132.42" width="3.40" height="3.40" fill="#fff" stroke="#ff6060" stroke-width="0.45"/><rect x="293.06" y="135.24" width="3.40" height="3.40" fill="#fff" stroke="#ff6060" stroke-width="0.45"/><rect x="293.89" y="138.16" width="3.40" height="3.40" fill="#fff" stroke="#ff6060" stroke-width="0.45"/><rect x="294.73" y="141.17" width="3.40" height="3.40" fill="#fff" stroke="#ff6060" stroke-width="0.45"/><rect x="295.56" y="144.27" width="3.40" height="3.40" fill="#fff" stroke="#ff6060" stroke-width="0.45"/><rect x="296.39" y="147.45" width="3.40" height="3.40" fill="#fff" stroke="#ff6060" stroke-width="0.45"/><rect x="297.23" y="150.73" width="3.40" height="3.40" fill="#fff" stroke="#ff6060" stroke-width="0.45"/><rect x="298.06" y="154.10" width="3.40" height="3.40" fill="#fff" stroke="#ff6060" stroke-width="0.45"/><rect x="298.90" y="157.56" width="3.40" height="3.40" fill="#fff" stroke="#ff6060" stroke-width="0.45"/><rect x="299.73" y="161.12" width="3.40" height="3.40" fill="#fff" stroke="#ff6060" stroke-width="0.45"/><rect x="300.57" y="164.76" width="3.40" height="3.40" fill="#fff" stroke="#ff6060" stroke-width="0.45"/><rect x="301.40" y="168.50" width="3.40" height="3.40" fill="#fff" stroke="#ff6060" stroke-width="0.45"/><rect x="302.24" y="172.33" width="3.40" height="3.40" fill="#fff" stroke="#ff6060" stroke-width="0.45"/><rect x="303.07" y="176.25" width="3.40" height="3.40" fill="#fff" stroke="#ff6060" stroke-width="0.45"/><rect x="303.91" y="180.26" width="3.40" height="3.40" fill="#fff" stroke="#ff6060" stroke-width="0.45"/><rect x="304.74" y="184.37" width="3.40" height="3.40" fill="#fff" stroke="#ff6060" stroke-width="0.45"/><rect x="305.57" y="188.58" width="3.40" height="3.40" fill="#fff" stroke="#ff6060" stroke-width="0.45"/><rect x="306.41" y="192.87" width="3.40" height="3.40" fill="#fff" stroke="#ff6060" stroke-width="0.45"/><rect x="307.24" y="197.26" width="3.40" height="3.40" fill="#fff" stroke="#ff6060" stroke-width="0.45"/><rect x="308.08" y="201.75" width="3.40" height="3.40" fill="#fff" stroke="#ff6060" stroke-width="0.45"/><rect x="308.91" y="206.33" width="3.40" height="3.40" fill="#fff" stroke="#ff6060" stroke-width="0.45"/><rect x="309.75" y="211.00" width="3.40" height="3.40" fill="#fff" stroke="#ff6060" stroke-width="0.45"/><rect x="310.58" y="215.77" width="3.40" height="3.40" fill="#fff" stroke="#ff6060" stroke-width="0.45"/><rect x="311.42" y="220.64" width="3.40" height="3.40" fill="#fff" stroke="#ff6060" stroke-width="0.45"/><rect x="312.25" y="225.60" width="3.40" height="3.40" fill="#fff" stroke="#ff6060" stroke-width="0.45"/><rect x="313.08" y="220.64" width="3.40" height="3.40" fill="#fff" stroke="#ff6060" stroke-width="0.45"/><rect x="313.92" y="215.77" width="3.40" height="3.40" fill="#fff" stroke="#ff6060" stroke-width="0.45"/><rect x="314.75" y="211.00" width="3.40" height="3.40" fill="#fff" stroke="#ff6060" stroke-width="0.45"/><rect x="315.59" y="206.33" width="3.40" height="3.40" fill="#fff" stroke="#ff6060" stroke-width="0.45"/><rect x="316.42" y="201.75" width="3.40" height="3.40" fill="#fff" stroke="#ff6060" stroke-width="0.45"/><rect x="317.26" y="197.26" width="3.40" height="3.40" fill="#fff" stroke="#ff6060" stroke-width="0.45"/><rect x="318.09" y="192.87" width="3.40" height="3.40" fill="#fff" stroke="#ff6060" stroke-width="0.45"/><rect x="318.93" y="188.58" width="3.40" height="3.40" fill="#fff" stroke="#ff6060" stroke-width="0.45"/><rect x="319.76" y="184.37" width="3.40" height="3.40" fill="#fff" stroke="#ff6060" stroke-width="0.45"/><rect x="320.60" y="180.26" width="3.40" height="3.40" fill="#fff" stroke="#ff6060" stroke-width="0.45"/><rect x="321.43" y="176.25" width="3.40" height="3.40" fill="#fff" stroke="#ff6060" stroke-width="0.45"/><rect x="322.26" y="172.33" width="3.40" height="3.40" fill="#fff" stroke="#ff6060" stroke-width="0.45"/><rect x="323.10" y="168.50" width="3.40" height="3.40" fill="#fff" stroke="#ff6060" stroke-width="0.45"/><rect x="323.93" y="164.76" width="3.40" height="3.40" fill="#fff" stroke="#ff6060" stroke-width="0.45"/><rect x="324.77" y="161.12" width="3.40" height="3.40" fill="#fff" stroke="#ff6060" stroke-width="0.45"/><rect x="325.60" y="157.56" width="3.40" height="3.40" fill="#fff" stroke="#ff6060" stroke-width="0.45"/><rect x="326.44" y="154.10" width="3.40" height="3.40" fill="#fff" stroke="#ff6060" stroke-width="0.45"/><rect x="327.27" y="150.73" width="3.40" height="3.40" fill="#fff" stroke="#ff6060" stroke-width="0.45"/><rect x="328.11" y="147.45" width="3.40" height="3.40" fill="#fff" stroke="#ff6060" stroke-width="0.45"/><rect x="328.94" y="144.27" width="3.40" height="3.40" fill="#fff" stroke="#ff6060" stroke-width="0.45"/><rect x="329.77" y="141.17" width="3.40" height="3.40" fill="#fff" stroke="#ff6060" stroke-width="0.45"/><rect x="330.61" y="138.16" width="3.40" height="3.40" fill="#fff" stroke="#ff6060" stroke-width="0.45"/><rect x="331.44" y="135.24" width="3.40" height="3.40" fill="#fff" stroke="#ff6060" stroke-width="0.45"/><rect x="332.28" y="132.42" width="3.40" height="3.40" fill="#fff" stroke="#ff6060" stroke-width="0.45"/><rect x="333.11" y="129.68" width="3.40" height="3.40" fill="#fff" stroke="#ff6060" stroke-width="0.45"/><rect x="333.95" y="127.03" width="3.40" height="3.40" fill="#fff" stroke="#ff6060" stroke-width="0.45"/><rect x="334.78" y="124.46" width="3.40" height="3.40" fill="#fff" stroke="#ff6060" stroke-width="0.45"/><rect x="335.62" y="121.99" width="3.40" height="3.40" fill="#fff" stroke="#ff6060" stroke-width="0.45"/><rect x="336.45" y="119.60" width="3.40" height="3.40" fill="#fff" stroke="#ff6060" stroke-width="0.45"/><rect x="337.29" y="117.30" width="3.40" height="3.40" fill="#fff" stroke="#ff6060" stroke-width="0.45"/><rect x="338.12" y="115.08" width="3.40" height="3.40" fill="#fff" stroke="#ff6060" stroke-width="0.45"/><rect x="338.95" y="112.96" width="3.40" height="3.40" fill="#fff" stroke="#ff6060" stroke-width="0.45"/><rect x="339.79" y="110.91" width="3.40" height="3.40" fill="#fff" stroke="#ff6060" stroke-width="0.45"/><rect x="340.62" y="108.96" width="3.40" height="3.40" fill="#fff" stroke="#ff6060" stroke-width="0.45"/><rect x="341.46" y="107.08" width="3.40" height="3.40" fill="#fff" stroke="#ff6060" stroke-width="0.45"/><rect x="342.29" y="105.30" width="3.40" height="3.40" fill="#fff" stroke="#ff6060" stroke-width="0.45"/><rect x="343.13" y="103.59" width="3.40" height="3.40" fill="#fff" stroke="#ff6060" stroke-width="0.45"/><rect x="343.96" y="101.97" width="3.40" height="3.40" fill="#fff" stroke="#ff6060" stroke-width="0.45"/><rect x="344.80" y="100.43" width="3.40" height="3.40" fill="#fff" stroke="#ff6060" stroke-width="0.45"/><rect x="345.63" y="98.97" width="3.40" height="3.40" fill="#fff" stroke="#ff6060" stroke-width="0.45"/><rect x="346.46" y="97.60" width="3.40" height="3.40" fill="#fff" stroke="#ff6060" stroke-width="0.45"/><rect x="347.30" y="96.30" width="3.40" height="3.40" fill="#fff" stroke="#ff6060" stroke-width="0.45"/><rect x="348.13" y="95.09" width="3.40" height="3.40" fill="#fff" stroke="#ff6060" stroke-width="0.45"/><rect x="348.97" y="93.95" width="3.40" height="3.40" fill="#fff" stroke="#ff6060" stroke-width="0.45"/><rect x="350.64" y="91.92" width="3.40" height="3.40" fill="#fff" stroke="#ff6060" stroke-width="0.45"/><rect x="352.31" y="90.19" width="3.40" height="3.40" fill="#fff" stroke="#ff6060" stroke-width="0.45"/><rect x="353.98" y="88.77" width="3.40" height="3.40" fill="#fff" stroke="#ff6060" stroke-width="0.45"/><rect x="355.64" y="87.64" width="3.40" height="3.40" fill="#fff" stroke="#ff6060" stroke-width="0.45"/><rect x="357.31" y="86.79" width="3.40" height="3.40" fill="#fff" stroke="#ff6060" stroke-width="0.45"/><rect x="358.98" y="86.21" width="3.40" height="3.40" fill="#fff" stroke="#ff6060" stroke-width="0.45"/><rect x="360.65" y="85.89" width="3.40" height="3.40" fill="#fff" stroke="#ff6060" stroke-width="0.45"/><rect x="362.32" y="85.80" width="3.40" height="3.40" fill="#fff" stroke="#ff6060" stroke-width="0.45"/><polyline points="63.60,237.90 64.02,237.89 64.43,237.85 64.85,237.79 65.27,237.71 65.69,237.61 66.10,237.48 66.52,237.32 66.94,237.15 67.36,236.95 67.77,236.73 68.19,236.48 68.61,236.21 69.02,235.91 69.44,235.60 69.86,235.25 70.28,234.89 70.69,234.50 71.11,234.09 71.53,233.65 71.95,233.19 72.36,232.71 72.78,232.20 73.20,231.66 73.61,231.11 74.03,230.53 74.45,229.92 74.87,229.29 75.28,228.64 75.70,227.96 76.12,227.26 76.53,226.53 76.95,225.78 77.37,225.01 77.79,224.21 78.20,223.38 78.62,222.53 79.04,221.66 79.46,220.76 79.87,219.83 80.29,218.88 80.71,217.90 81.12,216.90 81.54,215.87 81.96,214.82 82.38,213.74 82.79,212.64 83.21,211.51 83.63,210.35 84.05,209.17 84.46,207.96 84.88,206.73 85.30,205.47 85.71,204.18 86.13,202.86 86.55,201.52 86.97,200.15 87.38,198.76 87.80,197.33 88.22,195.88 88.64,194.40 89.05,192.90 89.47,191.36 89.89,189.80 90.30,188.21 90.72,186.59 91.14,184.94 91.56,183.27 91.97,181.56 92.39,179.83 92.81,178.06 93.22,176.27 93.64,174.45 94.06,172.59 94.48,170.71 94.89,168.80 95.31,166.85" fill="none" stroke="#ff0000" stroke-width="5.3" stroke-linejoin="round" /><polyline points="132.03,166.85 132.45,168.80 132.86,170.71 133.28,172.59 133.70,174.45 134.12,176.27 134.53,178.06 134.95,179.83 135.37,181.56 135.78,183.27 136.20,184.94 136.62,186.59 137.04,188.21 137.45,189.80 137.87,191.36 138.29,192.90 138.71,194.40 139.12,195.88 139.54,197.33 139.96,198.76 140.37,200.15 140.79,201.52 141.21,202.86 141.63,204.18 142.04,205.47 142.46,206.73 142.88,207.96 143.29,209.17 143.71,210.35 144.13,211.51 144.55,212.64 144.96,213.74 145.38,214.82 145.80,215.87 146.22,216.90 146.63,217.90 147.05,218.88 147.47,219.83 147.88,220.76 148.30,221.66 148.72,222.53 149.14,223.38 149.55,224.21 149.97,225.01 150.39,225.78 150.81,226.53 151.22,227.26 151.64,227.96 152.06,228.64 152.47,229.29 152.89,229.92 153.31,230.53 153.73,231.11 154.14,231.66 154.56,232.20 154.98,232.71 155.40,233.19 155.81,233.65 156.23,234.09 156.65,234.50 157.06,234.89 157.48,235.25 157.90,235.60 158.32,235.91 158.73,236.21 159.15,236.48 159.57,236.73 159.98,236.95 160.40,237.15 160.82,237.32 161.24,237.48 161.65,237.61 162.07,237.71 162.49,237.79 162.91,237.85 163.32,237.89 163.74,237.90 164.16,237.89 164.57,237.85 164.99,237.79 165.41,237.71 165.83,237.61 166.24,237.48 166.66,237.32 167.08,237.15 167.50,236.95 167.91,236.73 168.33,236.48 168.75,236.21 169.16,235.91 169.58,235.60 170.00,235.25 170.42,234.89 170.83,234.50 171.25,234.09 171.67,233.65 172.09,233.19 172.50,232.71 172.92,232.20 173.34,231.66 173.75,231.11 174.17,230.53 174.59,229.92 175.01,229.29 175.42,228.64 175.84,227.96 176.26,227.26 176.67,226.53 177.09,225.78 177.51,225.01 177.93,224.21 178.34,223.38 178.76,222.53 179.18,221.66 179.60,220.76 180.01,219.83 180.43,218.88 180.85,217.90 181.26,216.90 181.68,215.87 182.10,214.82 182.52,213.74 182.93,212.64 183.35,211.51 183.77,210.35 184.19,209.17 184.60,207.96 185.02,206.73 185.44,205.47 185.85,204.18 186.27,202.86 186.69,201.52 187.11,200.15 187.52,198.76 187.94,197.33 188.36,195.88 188.78,194.40 189.19,192.90 189.61,191.36 190.03,189.80 190.44,188.21 190.86,186.59 191.28,184.94 191.70,183.27 192.11,181.56 192.53,179.83 192.95,178.06 193.36,176.27 193.78,174.45 194.20,172.59 194.62,170.71 195.03,168.80 195.45,166.85" fill="none" stroke="#ff0000" stroke-width="5.3" stroke-linejoin="round" /><polyline points="232.17,166.85 232.59,168.80 233.00,170.71 233.42,172.59 233.84,174.45 234.26,176.27 234.67,178.06 235.09,179.83 235.51,181.56 235.92,183.27 236.34,184.94 236.76,186.59 237.18,188.21 237.59,189.80 238.01,191.36 238.43,192.90 238.84,194.40 239.26,195.88 239.68,197.33 240.10,198.76 240.51,200.15 240.93,201.52 241.35,202.86 241.77,204.18 242.18,205.47 242.60,206.73 243.02,207.96 243.43,209.17 243.85,210.35 244.27,211.51 244.69,212.64 245.10,213.74 245.52,214.82 245.94,215.87 246.36,216.90 246.77,217.90 247.19,218.88 247.61,219.83 248.02,220.76 248.44,221.66 248.86,222.53 249.28,223.38 249.69,224.21 250.11,225.01 250.53,225.78 250.95,226.53 251.36,227.26 251.78,227.96 252.20,228.64 252.61,229.29 253.03,229.92 253.45,230.53 253.87,231.11 254.28,231.66 254.70,232.20 255.12,232.71 255.53,233.19 255.95,233.65 256.37,234.09 256.79,234.50 257.20,234.89 257.62,235.25 258.04,235.60 258.46,235.91 258.87,236.21 259.29,236.48 259.71,236.73 260.12,236.95 260.54,237.15 260.96,237.32 261.38,237.48 261.79,237.61 262.21,237.71 262.63,237.79 263.05,237.85 263.46,237.89 263.88,237.90 264.30,237.89 264.71,237.85 265.13,237.79 265.55,237.71 265.97,237.61 266.38,237.48 266.80,237.32 267.22,237.15 267.64,236.95 268.05,236.73 268.47,236.48 268.89,236.21 269.30,235.91 269.72,235.60 270.14,235.25 270.56,234.89 270.97,234.50 271.39,234.09 271.81,233.65 272.23,233.19 272.64,232.71 273.06,232.20 273.48,231.66 273.89,231.11 274.31,230.53 274.73,229.92 275.15,229.29 275.56,228.64 275.98,227.96 276.40,227.26 276.81,226.53 277.23,225.78 277.65,225.01 278.07,224.21 278.48,223.38 278.90,222.53 279.32,221.66 279.74,220.76 280.15,219.83 280.57,218.88 280.99,217.90 281.40,216.90 281.82,215.87 282.24,214.82 282.66,213.74 283.07,212.64 283.49,211.51 283.91,210.35 284.33,209.17 284.74,207.96 285.16,206.73 285.58,205.47 285.99,204.18 286.41,202.86 286.83,201.52 287.25,200.15 287.66,198.76 288.08,197.33 288.50,195.88 288.92,194.40 289.33,192.90 289.75,191.36 290.17,189.80 290.58,188.21 291.00,186.59 291.42,184.94 291.84,183.27 292.25,181.56 292.67,179.83 293.09,178.06 293.50,176.27 293.92,174.45 294.34,172.59 294.76,170.71 295.17,168.80 295.59,166.85" fill="none" stroke="#ff0000" stroke-width="5.3" stroke-linejoin="round" /><polyline points="332.31,166.85 332.73,168.80 333.14,170.71 333.56,172.59 333.98,174.45 334.40,176.27 334.81,178.06 335.23,179.83 335.65,181.56 336.06,183.27 336.48,184.94 336.90,186.59 337.32,188.21 337.73,189.80 338.15,191.36 338.57,192.90 338.99,194.40 339.40,195.88 339.82,197.33 340.24,198.76 340.65,200.15 341.07,201.52 341.49,202.86 341.91,204.18 342.32,205.47 342.74,206.73 343.16,207.96 343.57,209.17 343.99,210.35 344.41,211.51 344.83,212.64 345.24,213.74 345.66,214.82 346.08,215.87 346.50,216.90 346.91,217.90 347.33,218.88 347.75,219.83 348.16,220.76 348.58,221.66 349.00,222.53 349.42,223.38 349.83,224.21 350.25,225.01 350.67,225.78 351.09,226.53 351.50,227.26 351.92,227.96 352.34,228.64 352.75,229.29 353.17,229.92 353.59,230.53 354.01,231.11 354.42,231.66 354.84,232.20 355.26,232.71 355.68,233.19 356.09,233.65 356.51,234.09 356.93,234.50 357.34,234.89 357.76,235.25 358.18,235.60 358.60,235.91 359.01,236.21 359.43,236.48 359.85,236.73 360.26,236.95 360.68,237.15 361.10,237.32 361.52,237.48 361.93,237.61 362.35,237.71 362.77,237.79 363.19,237.85 363.60,237.89 364.02,237.90" fill="none" stroke="#ff0000" stroke-width="5.3" stroke-linejoin="round" /><rect x="91.09" y="175.91" width="3.60" height="3.60" fill="#ff0000"/><rect x="92.09" y="171.54" width="3.60" height="3.60" fill="#ff0000"/><rect x="93.09" y="167.00" width="3.60" height="3.60" fill="#ff0000"/><rect x="94.10" y="162.28" width="3.60" height="3.60" fill="#ff0000"/><rect x="95.10" y="157.38" width="3.60" height="3.60" fill="#ff0000"/><rect x="96.10" y="152.31" width="3.60" height="3.60" fill="#ff0000"/><rect x="97.10" y="147.05" width="3.60" height="3.60" fill="#ff0000"/><rect x="98.10" y="141.59" width="3.60" height="3.60" fill="#ff0000"/><rect x="99.10" y="135.95" width="3.60" height="3.60" fill="#ff0000"/><rect x="100.10" y="130.11" width="3.60" height="3.60" fill="#ff0000"/><rect x="101.10" y="124.08" width="3.60" height="3.60" fill="#ff0000"/><rect x="102.11" y="117.83" width="3.60" height="3.60" fill="#ff0000"/><rect x="103.11" y="111.38" width="3.60" height="3.60" fill="#ff0000"/><rect x="104.11" y="104.72" width="3.60" height="3.60" fill="#ff0000"/><rect x="105.11" y="97.84" width="3.60" height="3.60" fill="#ff0000"/><rect x="106.11" y="90.75" width="3.60" height="3.60" fill="#ff0000"/><rect x="107.11" y="83.42" width="3.60" height="3.60" fill="#ff0000"/><rect x="108.11" y="75.86" width="3.60" height="3.60" fill="#ff0000"/><rect x="109.12" y="68.06" width="3.60" height="3.60" fill="#ff0000"/><rect x="110.12" y="60.03" width="3.60" height="3.60" fill="#ff0000"/><rect x="111.12" y="51.74" width="3.60" height="3.60" fill="#ff0000"/><rect x="112.12" y="47.50" width="3.60" height="3.60" fill="#ff0000"/><rect x="113.12" y="55.91" width="3.60" height="3.60" fill="#ff0000"/><rect x="114.12" y="64.08" width="3.60" height="3.60" fill="#ff0000"/><rect x="115.12" y="71.99" width="3.60" height="3.60" fill="#ff0000"/><rect x="116.13" y="79.67" width="3.60" height="3.60" fill="#ff0000"/><rect x="117.13" y="87.11" width="3.60" height="3.60" fill="#ff0000"/><rect x="118.13" y="94.32" width="3.60" height="3.60" fill="#ff0000"/><rect x="119.13" y="101.31" width="3.60" height="3.60" fill="#ff0000"/><rect x="120.13" y="108.08" width="3.60" height="3.60" fill="#ff0000"/><rect x="121.13" y="114.64" width="3.60" height="3.60" fill="#ff0000"/><rect x="122.13" y="120.98" width="3.60" height="3.60" fill="#ff0000"/><rect x="123.14" y="127.12" width="3.60" height="3.60" fill="#ff0000"/><rect x="124.14" y="133.06" width="3.60" height="3.60" fill="#ff0000"/><rect x="125.14" y="138.80" width="3.60" height="3.60" fill="#ff0000"/><rect x="126.14" y="144.34" width="3.60" height="3.60" fill="#ff0000"/><rect x="127.14" y="149.70" width="3.60" height="3.60" fill="#ff0000"/><rect x="128.14" y="154.87" width="3.60" height="3.60" fill="#ff0000"/><rect x="129.14" y="159.86" width="3.60" height="3.60" fill="#ff0000"/><rect x="130.15" y="164.66" width="3.60" height="3.60" fill="#ff0000"/><rect x="131.15" y="169.29" width="3.60" height="3.60" fill="#ff0000"/><rect x="132.15" y="173.74" width="3.60" height="3.60" fill="#ff0000"/><rect x="133.15" y="178.03" width="3.60" height="3.60" fill="#ff0000"/><rect x="191.23" y="175.91" width="3.60" height="3.60" fill="#ff0000"/><rect x="192.23" y="171.54" width="3.60" height="3.60" fill="#ff0000"/><rect x="193.23" y="167.00" width="3.60" height="3.60" fill="#ff0000"/><rect x="194.24" y="162.28" width="3.60" height="3.60" fill="#ff0000"/><rect x="195.24" y="157.38" width="3.60" height="3.60" fill="#ff0000"/><rect x="196.24" y="152.31" width="3.60" height="3.60" fill="#ff0000"/><rect x="197.24" y="147.05" width="3.60" height="3.60" fill="#ff0000"/><rect x="198.24" y="141.59" width="3.60" height="3.60" fill="#ff0000"/><rect x="199.24" y="135.95" width="3.60" height="3.60" fill="#ff0000"/><rect x="200.24" y="130.11" width="3.60" height="3.60" fill="#ff0000"/><rect x="201.24" y="124.08" width="3.60" height="3.60" fill="#ff0000"/><rect x="202.25" y="117.83" width="3.60" height="3.60" fill="#ff0000"/><rect x="203.25" y="111.38" width="3.60" height="3.60" fill="#ff0000"/><rect x="204.25" y="104.72" width="3.60" height="3.60" fill="#ff0000"/><rect x="205.25" y="97.84" width="3.60" height="3.60" fill="#ff0000"/><rect x="206.25" y="90.75" width="3.60" height="3.60" fill="#ff0000"/><rect x="207.25" y="83.42" width="3.60" height="3.60" fill="#ff0000"/><rect x="208.25" y="75.86" width="3.60" height="3.60" fill="#ff0000"/><rect x="209.26" y="68.06" width="3.60" height="3.60" fill="#ff0000"/><rect x="210.26" y="60.03" width="3.60" height="3.60" fill="#ff0000"/><rect x="211.26" y="51.74" width="3.60" height="3.60" fill="#ff0000"/><rect x="212.26" y="47.50" width="3.60" height="3.60" fill="#ff0000"/><rect x="213.26" y="55.91" width="3.60" height="3.60" fill="#ff0000"/><rect x="214.26" y="64.08" width="3.60" height="3.60" fill="#ff0000"/><rect x="215.26" y="71.99" width="3.60" height="3.60" fill="#ff0000"/><rect x="216.27" y="79.67" width="3.60" height="3.60" fill="#ff0000"/><rect x="217.27" y="87.11" width="3.60" height="3.60" fill="#ff0000"/><rect x="218.27" y="94.32" width="3.60" height="3.60" fill="#ff0000"/><rect x="219.27" y="101.31" width="3.60" height="3.60" fill="#ff0000"/><rect x="220.27" y="108.08" width="3.60" height="3.60" fill="#ff0000"/><rect x="221.27" y="114.64" width="3.60" height="3.60" fill="#ff0000"/><rect x="222.27" y="120.98" width="3.60" height="3.60" fill="#ff0000"/><rect x="223.28" y="127.12" width="3.60" height="3.60" fill="#ff0000"/><rect x="224.28" y="133.06" width="3.60" height="3.60" fill="#ff0000"/><rect x="225.28" y="138.80" width="3.60" height="3.60" fill="#ff0000"/><rect x="226.28" y="144.34" width="3.60" height="3.60" fill="#ff0000"/><rect x="227.28" y="149.70" width="3.60" height="3.60" fill="#ff0000"/><rect x="228.28" y="154.87" width="3.60" height="3.60" fill="#ff0000"/><rect x="229.28" y="159.86" width="3.60" height="3.60" fill="#ff0000"/><rect x="230.29" y="164.66" width="3.60" height="3.60" fill="#ff0000"/><rect x="231.29" y="169.29" width="3.60" height="3.60" fill="#ff0000"/><rect x="232.29" y="173.74" width="3.60" height="3.60" fill="#ff0000"/><rect x="233.29" y="178.03" width="3.60" height="3.60" fill="#ff0000"/><rect x="291.37" y="175.91" width="3.60" height="3.60" fill="#ff0000"/><rect x="292.37" y="171.54" width="3.60" height="3.60" fill="#ff0000"/><rect x="293.37" y="167.00" width="3.60" height="3.60" fill="#ff0000"/><rect x="294.38" y="162.28" width="3.60" height="3.60" fill="#ff0000"/><rect x="295.38" y="157.38" width="3.60" height="3.60" fill="#ff0000"/><rect x="296.38" y="152.31" width="3.60" height="3.60" fill="#ff0000"/><rect x="297.38" y="147.05" width="3.60" height="3.60" fill="#ff0000"/><rect x="298.38" y="141.59" width="3.60" height="3.60" fill="#ff0000"/><rect x="299.38" y="135.95" width="3.60" height="3.60" fill="#ff0000"/><rect x="300.38" y="130.11" width="3.60" height="3.60" fill="#ff0000"/><rect x="301.38" y="124.08" width="3.60" height="3.60" fill="#ff0000"/><rect x="302.39" y="117.83" width="3.60" height="3.60" fill="#ff0000"/><rect x="303.39" y="111.38" width="3.60" height="3.60" fill="#ff0000"/><rect x="304.39" y="104.72" width="3.60" height="3.60" fill="#ff0000"/><rect x="305.39" y="97.84" width="3.60" height="3.60" fill="#ff0000"/><rect x="306.39" y="90.75" width="3.60" height="3.60" fill="#ff0000"/><rect x="307.39" y="83.42" width="3.60" height="3.60" fill="#ff0000"/><rect x="308.39" y="75.86" width="3.60" height="3.60" fill="#ff0000"/><rect x="309.40" y="68.06" width="3.60" height="3.60" fill="#ff0000"/><rect x="310.40" y="60.03" width="3.60" height="3.60" fill="#ff0000"/><rect x="311.40" y="51.74" width="3.60" height="3.60" fill="#ff0000"/><rect x="312.40" y="47.50" width="3.60" height="3.60" fill="#ff0000"/><rect x="313.40" y="55.91" width="3.60" height="3.60" fill="#ff0000"/><rect x="314.40" y="64.08" width="3.60" height="3.60" fill="#ff0000"/><rect x="315.40" y="71.99" width="3.60" height="3.60" fill="#ff0000"/><rect x="316.41" y="79.67" width="3.60" height="3.60" fill="#ff0000"/><rect x="317.41" y="87.11" width="3.60" height="3.60" fill="#ff0000"/><rect x="318.41" y="94.32" width="3.60" height="3.60" fill="#ff0000"/><rect x="319.41" y="101.31" width="3.60" height="3.60" fill="#ff0000"/><rect x="320.41" y="108.08" width="3.60" height="3.60" fill="#ff0000"/><rect x="321.41" y="114.64" width="3.60" height="3.60" fill="#ff0000"/><rect x="322.41" y="120.98" width="3.60" height="3.60" fill="#ff0000"/><rect x="323.42" y="127.12" width="3.60" height="3.60" fill="#ff0000"/><rect x="324.42" y="133.06" width="3.60" height="3.60" fill="#ff0000"/><rect x="325.42" y="138.80" width="3.60" height="3.60" fill="#ff0000"/><rect x="326.42" y="144.34" width="3.60" height="3.60" fill="#ff0000"/><rect x="327.42" y="149.70" width="3.60" height="3.60" fill="#ff0000"/><rect x="328.42" y="154.87" width="3.60" height="3.60" fill="#ff0000"/><rect x="329.42" y="159.86" width="3.60" height="3.60" fill="#ff0000"/><rect x="330.43" y="164.66" width="3.60" height="3.60" fill="#ff0000"/><rect x="331.43" y="169.29" width="3.60" height="3.60" fill="#ff0000"/><rect x="332.43" y="173.74" width="3.60" height="3.60" fill="#ff0000"/><rect x="333.43" y="178.03" width="3.60" height="3.60" fill="#ff0000"/><polyline points="63.60,223.10 64.02,223.09 64.43,223.06 64.85,223.00 65.27,222.91 65.69,222.81 66.10,222.68 66.52,222.52 66.94,222.34 67.36,222.14 67.77,221.92 68.19,221.67 68.61,221.39 69.02,221.09 69.44,220.77 69.86,220.43 70.28,220.06 70.69,219.66 71.11,219.25 71.53,218.80 71.95,218.34 72.36,217.85 72.78,217.33 73.20,216.79 73.61,216.23 74.03,215.64 74.45,215.03 74.87,214.39 75.28,213.73 75.70,213.05 76.12,212.34 76.53,211.60 76.95,210.84 77.37,210.06 77.79,209.25 78.20,208.41 78.62,207.55 79.04,206.66 79.46,205.75 79.87,204.82 80.29,203.85 80.71,202.87 81.12,201.85 81.54,200.81 81.96,199.75 82.38,198.66 82.79,197.54 83.21,196.40 83.63,195.23 84.05,194.03 84.46,192.81 84.88,191.56 85.30,190.28 85.71,188.98 86.13,187.65 86.55,186.29 86.97,184.90 87.38,183.49 87.80,182.05 88.22,180.58 88.64,179.09 89.05,177.56 89.47,176.01 89.89,174.43 90.30,172.82 90.72,171.18 91.14,169.51 91.56,167.82 91.97,166.09 92.39,164.33 92.81,162.55 93.22,160.73 93.64,158.89 94.06,157.01 94.48,155.11 94.89,153.17 95.31,151.21 95.73,149.21 96.15,147.18 96.56,145.12 96.98,143.02 97.40,140.90 97.81,138.74 98.23,136.55 98.65,136.89 99.07,137.85 99.48,138.80 99.90,139.75 100.32,140.69 100.74,141.61 101.15,142.53 101.57,143.44 101.99,144.34 102.40,145.22 102.82,146.09 103.24,146.95 103.66,147.79 104.07,148.62 104.49,149.42 104.91,150.22 105.33,150.99 105.74,151.74 106.16,152.46 106.58,153.17 106.99,153.85 107.41,154.50 107.83,155.12 108.25,155.71 108.66,156.27 109.08,156.79 109.50,157.28 109.91,157.73 110.33,158.14 110.75,158.50 111.17,158.82 111.58,159.09 112.00,159.32 112.42,159.50 112.84,159.63 113.25,159.70 113.67,159.73 114.09,159.70 114.50,159.63 114.92,159.50 115.34,159.32 115.76,159.09 116.17,158.82 116.59,158.50 117.01,158.14 117.43,157.73 117.84,157.28 118.26,156.79 118.68,156.27 119.09,155.71 119.51,155.12 119.93,154.50 120.35,153.85 120.76,153.17 121.18,152.46 121.60,151.74 122.02,150.99 122.43,150.22 122.85,149.42 123.27,148.62 123.68,147.79 124.10,146.95 124.52,146.09 124.94,145.22 125.35,144.34 125.77,143.44 126.19,142.53 126.60,141.61 127.02,140.69 127.44,139.75 127.86,138.80 128.27,137.85 128.69,136.89 129.11,136.55 129.53,138.74 129.94,140.90 130.36,143.02 130.78,145.12 131.19,147.18 131.61,149.21 132.03,151.21 132.45,153.17 132.86,155.11 133.28,157.01 133.70,158.89 134.12,160.73 134.53,162.55 134.95,164.33 135.37,166.09 135.78,167.82 136.20,169.51 136.62,171.18 137.04,172.82 137.45,174.43 137.87,176.01 138.29,177.56 138.71,179.09 139.12,180.58 139.54,182.05 139.96,183.49 140.37,184.90 140.79,186.29 141.21,187.65 141.63,188.98 142.04,190.28 142.46,191.56 142.88,192.81 143.29,194.03 143.71,195.23 144.13,196.40 144.55,197.54 144.96,198.66 145.38,199.75 145.80,200.81 146.22,201.85 146.63,202.87 147.05,203.85 147.47,204.82 147.88,205.75 148.30,206.66 148.72,207.55 149.14,208.41 149.55,209.25 149.97,210.06 150.39,210.84 150.81,211.60 151.22,212.34 151.64,213.05 152.06,213.73 152.47,214.39 152.89,215.03 153.31,215.64 153.73,216.23 154.14,216.79 154.56,217.33 154.98,217.85 155.40,218.34 155.81,218.80 156.23,219.25 156.65,219.66 157.06,220.06 157.48,220.43 157.90,220.77 158.32,221.09 158.73,221.39 159.15,221.67 159.57,221.92 159.98,222.14 160.40,222.34 160.82,222.52 161.24,222.68 161.65,222.81 162.07,222.91 162.49,223.00 162.91,223.06 163.32,223.09 163.74,223.10 164.16,223.09 164.57,223.06 164.99,223.00 165.41,222.91 165.83,222.81 166.24,222.68 166.66,222.52 167.08,222.34 167.50,222.14 167.91,221.92 168.33,221.67 168.75,221.39 169.16,221.09 169.58,220.77 170.00,220.43 170.42,220.06 170.83,219.66 171.25,219.25 171.67,218.80 172.09,218.34 172.50,217.85 172.92,217.33 173.34,216.79 173.75,216.23 174.17,215.64 174.59,215.03 175.01,214.39 175.42,213.73 175.84,213.05 176.26,212.34 176.67,211.60 177.09,210.84 177.51,210.06 177.93,209.25 178.34,208.41 178.76,207.55 179.18,206.66 179.60,205.75 180.01,204.82 180.43,203.85 180.85,202.87 181.26,201.85 181.68,200.81 182.10,199.75 182.52,198.66 182.93,197.54 183.35,196.40 183.77,195.23 184.19,194.03 184.60,192.81 185.02,191.56 185.44,190.28 185.85,188.98 186.27,187.65 186.69,186.29 187.11,184.90 187.52,183.49 187.94,182.05 188.36,180.58 188.78,179.09 189.19,177.56 189.61,176.01 190.03,174.43 190.44,172.82 190.86,171.18 191.28,169.51 191.70,167.82 192.11,166.09 192.53,164.33 192.95,162.55 193.36,160.73 193.78,158.89 194.20,157.01 194.62,155.11 195.03,153.17 195.45,151.21 195.87,149.21 196.29,147.18 196.70,145.12 197.12,143.02 197.54,140.90 197.95,138.74 198.37,136.55 198.79,136.89 199.21,137.85 199.62,138.80 200.04,139.75 200.46,140.69 200.88,141.61 201.29,142.53 201.71,143.44 202.13,144.34 202.54,145.22 202.96,146.09 203.38,146.95 203.80,147.79 204.21,148.62 204.63,149.42 205.05,150.22 205.47,150.99 205.88,151.74 206.30,152.46 206.72,153.17 207.13,153.85 207.55,154.50 207.97,155.12 208.39,155.71 208.80,156.27 209.22,156.79 209.64,157.28 210.05,157.73 210.47,158.14 210.89,158.50 211.31,158.82 211.72,159.09 212.14,159.32 212.56,159.50 212.98,159.63 213.39,159.70 213.81,159.73 214.23,159.70 214.64,159.63 215.06,159.50 215.48,159.32 215.90,159.09 216.31,158.82 216.73,158.50 217.15,158.14 217.57,157.73 217.98,157.28 218.40,156.79 218.82,156.27 219.23,155.71 219.65,155.12 220.07,154.50 220.49,153.85 220.90,153.17 221.32,152.46 221.74,151.74 222.16,150.99 222.57,150.22 222.99,149.42 223.41,148.62 223.82,147.79 224.24,146.95 224.66,146.09 225.08,145.22 225.49,144.34 225.91,143.44 226.33,142.53 226.74,141.61 227.16,140.69 227.58,139.75 228.00,138.80 228.41,137.85 228.83,136.89 229.25,136.55 229.67,138.74 230.08,140.90 230.50,143.02 230.92,145.12 231.33,147.18 231.75,149.21 232.17,151.21 232.59,153.17 233.00,155.11 233.42,157.01 233.84,158.89 234.26,160.73 234.67,162.55 235.09,164.33 235.51,166.09 235.92,167.82 236.34,169.51 236.76,171.18 237.18,172.82 237.59,174.43 238.01,176.01 238.43,177.56 238.84,179.09 239.26,180.58 239.68,182.05 240.10,183.49 240.51,184.90 240.93,186.29 241.35,187.65 241.77,188.98 242.18,190.28 242.60,191.56 243.02,192.81 243.43,194.03 243.85,195.23 244.27,196.40 244.69,197.54 245.10,198.66 245.52,199.75 245.94,200.81 246.36,201.85 246.77,202.87 247.19,203.85 247.61,204.82 248.02,205.75 248.44,206.66 248.86,207.55 249.28,208.41 249.69,209.25 250.11,210.06 250.53,210.84 250.95,211.60 251.36,212.34 251.78,213.05 252.20,213.73 252.61,214.39 253.03,215.03 253.45,215.64 253.87,216.23 254.28,216.79 254.70,217.33 255.12,217.85 255.53,218.34 255.95,218.80 256.37,219.25 256.79,219.66 257.20,220.06 257.62,220.43 258.04,220.77 258.46,221.09 258.87,221.39 259.29,221.67 259.71,221.92 260.12,222.14 260.54,222.34 260.96,222.52 261.38,222.68 261.79,222.81 262.21,222.91 262.63,223.00 263.05,223.06 263.46,223.09 263.88,223.10 264.30,223.09 264.71,223.06 265.13,223.00 265.55,222.91 265.97,222.81 266.38,222.68 266.80,222.52 267.22,222.34 267.64,222.14 268.05,221.92 268.47,221.67 268.89,221.39 269.30,221.09 269.72,220.77 270.14,220.43 270.56,220.06 270.97,219.66 271.39,219.25 271.81,218.80 272.23,218.34 272.64,217.85 273.06,217.33 273.48,216.79 273.89,216.23 274.31,215.64 274.73,215.03 275.15,214.39 275.56,213.73 275.98,213.05 276.40,212.34 276.81,211.60 277.23,210.84 277.65,210.06 278.07,209.25 278.48,208.41 278.90,207.55 279.32,206.66 279.74,205.75 280.15,204.82 280.57,203.85 280.99,202.87 281.40,201.85 281.82,200.81 282.24,199.75 282.66,198.66 283.07,197.54 283.49,196.40 283.91,195.23 284.33,194.03 284.74,192.81 285.16,191.56 285.58,190.28 285.99,188.98 286.41,187.65 286.83,186.29 287.25,184.90 287.66,183.49 288.08,182.05 288.50,180.58 288.92,179.09 289.33,177.56 289.75,176.01 290.17,174.43 290.58,172.82 291.00,171.18 291.42,169.51 291.84,167.82 292.25,166.09 292.67,164.33 293.09,162.55 293.50,160.73 293.92,158.89 294.34,157.01 294.76,155.11 295.17,153.17 295.59,151.21 296.01,149.21 296.43,147.18 296.84,145.12 297.26,143.02 297.68,140.90 298.09,138.74 298.51,136.55 298.93,136.89 299.35,137.85 299.76,138.80 300.18,139.75 300.60,140.69 301.02,141.61 301.43,142.53 301.85,143.44 302.27,144.34 302.68,145.22 303.10,146.09 303.52,146.95 303.94,147.79 304.35,148.62 304.77,149.42 305.19,150.22 305.61,150.99 306.02,151.74 306.44,152.46 306.86,153.17 307.27,153.85 307.69,154.50 308.11,155.12 308.53,155.71 308.94,156.27 309.36,156.79 309.78,157.28 310.19,157.73 310.61,158.14 311.03,158.50 311.45,158.82 311.86,159.09 312.28,159.32 312.70,159.50 313.12,159.63 313.53,159.70 313.95,159.73 314.37,159.70 314.78,159.63 315.20,159.50 315.62,159.32 316.04,159.09 316.45,158.82 316.87,158.50 317.29,158.14 317.71,157.73 318.12,157.28 318.54,156.79 318.96,156.27 319.37,155.71 319.79,155.12 320.21,154.50 320.63,153.85 321.04,153.17 321.46,152.46 321.88,151.74 322.30,150.99 322.71,150.22 323.13,149.42 323.55,148.62 323.96,147.79 324.38,146.95 324.80,146.09 325.22,145.22 325.63,144.34 326.05,143.44 326.47,142.53 326.88,141.61 327.30,140.69 327.72,139.75 328.14,138.80 328.55,137.85 328.97,136.89 329.39,136.55 329.81,138.74 330.22,140.90 330.64,143.02 331.06,145.12 331.47,147.18 331.89,149.21 332.31,151.21 332.73,153.17 333.14,155.11 333.56,157.01 333.98,158.89 334.40,160.73 334.81,162.55 335.23,164.33 335.65,166.09 336.06,167.82 336.48,169.51 336.90,171.18 337.32,172.82 337.73,174.43 338.15,176.01 338.57,177.56 338.99,179.09 339.40,180.58 339.82,182.05 340.24,183.49 340.65,184.90 341.07,186.29 341.49,187.65 341.91,188.98 342.32,190.28 342.74,191.56 343.16,192.81 343.57,194.03 343.99,195.23 344.41,196.40 344.83,197.54 345.24,198.66 345.66,199.75 346.08,200.81 346.50,201.85 346.91,202.87 347.33,203.85 347.75,204.82 348.16,205.75 348.58,206.66 349.00,207.55 349.42,208.41 349.83,209.25 350.25,210.06 350.67,210.84 351.09,211.60 351.50,212.34 351.92,213.05 352.34,213.73 352.75,214.39 353.17,215.03 353.59,215.64 354.01,216.23 354.42,216.79 354.84,217.33 355.26,217.85 355.68,218.34 356.09,218.80 356.51,219.25 356.93,219.66 357.34,220.06 357.76,220.43 358.18,220.77 358.60,221.09 359.01,221.39 359.43,221.67 359.85,221.92 360.26,222.14 360.68,222.34 361.10,222.52 361.52,222.68 361.93,222.81 362.35,222.91 362.77,223.00 363.19,223.06 363.60,223.09 364.02,223.10" fill="none" stroke="#0000ff" stroke-width="4.7" stroke-linejoin="round" /><rect x="61.90" y="103.60" width="3.40" height="3.40" fill="#fff" stroke="#6060ff" stroke-width="0.45"/><rect x="63.57" y="103.67" width="3.40" height="3.40" fill="#fff" stroke="#6060ff" stroke-width="0.45"/><rect x="65.24" y="103.94" width="3.40" height="3.40" fill="#fff" stroke="#6060ff" stroke-width="0.45"/><rect x="66.91" y="104.46" width="3.40" height="3.40" fill="#fff" stroke="#6060ff" stroke-width="0.45"/><rect x="68.58" y="105.26" width="3.40" height="3.40" fill="#fff" stroke="#6060ff" stroke-width="0.45"/><rect x="70.25" y="106.38" width="3.40" height="3.40" fill="#fff" stroke="#6060ff" stroke-width="0.45"/><rect x="71.91" y="107.82" width="3.40" height="3.40" fill="#fff" stroke="#6060ff" stroke-width="0.45"/><rect x="73.58" y="109.62" width="3.40" height="3.40" fill="#fff" stroke="#6060ff" stroke-width="0.45"/><rect x="75.25" y="111.79" width="3.40" height="3.40" fill="#fff" stroke="#6060ff" stroke-width="0.45"/><rect x="76.09" y="113.01" width="3.40" height="3.40" fill="#fff" stroke="#6060ff" stroke-width="0.45"/><rect x="76.92" y="114.33" width="3.40" height="3.40" fill="#fff" stroke="#6060ff" stroke-width="0.45"/><rect x="77.76" y="115.76" width="3.40" height="3.40" fill="#fff" stroke="#6060ff" stroke-width="0.45"/><rect x="78.59" y="117.28" width="3.40" height="3.40" fill="#fff" stroke="#6060ff" stroke-width="0.45"/><rect x="79.42" y="118.90" width="3.40" height="3.40" fill="#fff" stroke="#6060ff" stroke-width="0.45"/><rect x="80.26" y="120.63" width="3.40" height="3.40" fill="#fff" stroke="#6060ff" stroke-width="0.45"/><rect x="81.09" y="122.46" width="3.40" height="3.40" fill="#fff" stroke="#6060ff" stroke-width="0.45"/><rect x="81.93" y="124.40" width="3.40" height="3.40" fill="#fff" stroke="#6060ff" stroke-width="0.45"/><rect x="82.76" y="126.45" width="3.40" height="3.40" fill="#fff" stroke="#6060ff" stroke-width="0.45"/><rect x="83.60" y="128.61" width="3.40" height="3.40" fill="#fff" stroke="#6060ff" stroke-width="0.45"/><rect x="84.43" y="130.87" width="3.40" height="3.40" fill="#fff" stroke="#6060ff" stroke-width="0.45"/><rect x="85.27" y="133.25" width="3.40" height="3.40" fill="#fff" stroke="#6060ff" stroke-width="0.45"/><rect x="86.10" y="135.75" width="3.40" height="3.40" fill="#fff" stroke="#6060ff" stroke-width="0.45"/><rect x="86.94" y="138.35" width="3.40" height="3.40" fill="#fff" stroke="#6060ff" stroke-width="0.45"/><rect x="87.77" y="141.08" width="3.40" height="3.40" fill="#fff" stroke="#6060ff" stroke-width="0.45"/><rect x="88.60" y="143.92" width="3.40" height="3.40" fill="#fff" stroke="#6060ff" stroke-width="0.45"/><rect x="89.44" y="146.87" width="3.40" height="3.40" fill="#fff" stroke="#6060ff" stroke-width="0.45"/><rect x="90.27" y="149.95" width="3.40" height="3.40" fill="#fff" stroke="#6060ff" stroke-width="0.45"/><rect x="91.11" y="153.14" width="3.40" height="3.40" fill="#fff" stroke="#6060ff" stroke-width="0.45"/><rect x="91.94" y="156.46" width="3.40" height="3.40" fill="#fff" stroke="#6060ff" stroke-width="0.45"/><rect x="92.78" y="159.90" width="3.40" height="3.40" fill="#fff" stroke="#6060ff" stroke-width="0.45"/><rect x="93.61" y="163.46" width="3.40" height="3.40" fill="#fff" stroke="#6060ff" stroke-width="0.45"/><rect x="94.45" y="167.14" width="3.40" height="3.40" fill="#fff" stroke="#6060ff" stroke-width="0.45"/><rect x="95.28" y="170.95" width="3.40" height="3.40" fill="#fff" stroke="#6060ff" stroke-width="0.45"/><rect x="96.11" y="172.14" width="3.40" height="3.40" fill="#fff" stroke="#6060ff" stroke-width="0.45"/><rect x="96.95" y="169.34" width="3.40" height="3.40" fill="#fff" stroke="#6060ff" stroke-width="0.45"/><rect x="97.78" y="166.68" width="3.40" height="3.40" fill="#fff" stroke="#6060ff" stroke-width="0.45"/><rect x="98.62" y="164.19" width="3.40" height="3.40" fill="#fff" stroke="#6060ff" stroke-width="0.45"/><rect x="99.45" y="161.84" width="3.40" height="3.40" fill="#fff" stroke="#6060ff" stroke-width="0.45"/><rect x="100.29" y="159.64" width="3.40" height="3.40" fill="#fff" stroke="#6060ff" stroke-width="0.45"/><rect x="101.12" y="157.60" width="3.40" height="3.40" fill="#fff" stroke="#6060ff" stroke-width="0.45"/><rect x="101.96" y="155.70" width="3.40" height="3.40" fill="#fff" stroke="#6060ff" stroke-width="0.45"/><rect x="102.79" y="153.96" width="3.40" height="3.40" fill="#fff" stroke="#6060ff" stroke-width="0.45"/><rect x="103.62" y="152.37" width="3.40" height="3.40" fill="#fff" stroke="#6060ff" stroke-width="0.45"/><rect x="104.46" y="150.93" width="3.40" height="3.40" fill="#fff" stroke="#6060ff" stroke-width="0.45"/><rect x="105.29" y="149.65" width="3.40" height="3.40" fill="#fff" stroke="#6060ff" stroke-width="0.45"/><rect x="106.13" y="148.51" width="3.40" height="3.40" fill="#fff" stroke="#6060ff" stroke-width="0.45"/><rect x="107.80" y="146.69" width="3.40" height="3.40" fill="#fff" stroke="#6060ff" stroke-width="0.45"/><rect x="109.47" y="145.48" width="3.40" height="3.40" fill="#fff" stroke="#6060ff" stroke-width="0.45"/><rect x="111.14" y="144.88" width="3.40" height="3.40" fill="#fff" stroke="#6060ff" stroke-width="0.45"/><rect x="112.80" y="144.84" width="3.40" height="3.40" fill="#fff" stroke="#6060ff" stroke-width="0.45"/><rect x="114.47" y="145.13" width="3.40" height="3.40" fill="#fff" stroke="#6060ff" stroke-width="0.45"/><rect x="116.14" y="145.73" width="3.40" height="3.40" fill="#fff" stroke="#6060ff" stroke-width="0.45"/><rect x="117.81" y="146.62" width="3.40" height="3.40" fill="#fff" stroke="#6060ff" stroke-width="0.45"/><rect x="119.48" y="147.81" width="3.40" height="3.40" fill="#fff" stroke="#6060ff" stroke-width="0.45"/><rect x="121.15" y="149.30" width="3.40" height="3.40" fill="#fff" stroke="#6060ff" stroke-width="0.45"/><rect x="122.82" y="151.09" width="3.40" height="3.40" fill="#fff" stroke="#6060ff" stroke-width="0.45"/><rect x="124.49" y="153.17" width="3.40" height="3.40" fill="#fff" stroke="#6060ff" stroke-width="0.45"/><rect x="125.32" y="154.32" width="3.40" height="3.40" fill="#fff" stroke="#6060ff" stroke-width="0.45"/><rect x="126.16" y="155.55" width="3.40" height="3.40" fill="#fff" stroke="#6060ff" stroke-width="0.45"/><rect x="126.99" y="156.85" width="3.40" height="3.40" fill="#fff" stroke="#6060ff" stroke-width="0.45"/><rect x="127.83" y="158.23" width="3.40" height="3.40" fill="#fff" stroke="#6060ff" stroke-width="0.45"/><rect x="128.66" y="156.74" width="3.40" height="3.40" fill="#fff" stroke="#6060ff" stroke-width="0.45"/><rect x="129.49" y="153.40" width="3.40" height="3.40" fill="#fff" stroke="#6060ff" stroke-width="0.45"/><rect x="130.33" y="150.17" width="3.40" height="3.40" fill="#fff" stroke="#6060ff" stroke-width="0.45"/><rect x="131.16" y="147.05" width="3.40" height="3.40" fill="#fff" stroke="#6060ff" stroke-width="0.45"/><rect x="132.00" y="144.04" width="3.40" height="3.40" fill="#fff" stroke="#6060ff" stroke-width="0.45"/><rect x="132.83" y="141.13" width="3.40" height="3.40" fill="#fff" stroke="#6060ff" stroke-width="0.45"/><rect x="133.67" y="138.33" width="3.40" height="3.40" fill="#fff" stroke="#6060ff" stroke-width="0.45"/><rect x="134.50" y="135.63" width="3.40" height="3.40" fill="#fff" stroke="#6060ff" stroke-width="0.45"/><rect x="135.34" y="133.04" width="3.40" height="3.40" fill="#fff" stroke="#6060ff" stroke-width="0.45"/><rect x="136.17" y="130.55" width="3.40" height="3.40" fill="#fff" stroke="#6060ff" stroke-width="0.45"/><rect x="137.01" y="128.17" width="3.40" height="3.40" fill="#fff" stroke="#6060ff" stroke-width="0.45"/><rect x="137.84" y="125.88" width="3.40" height="3.40" fill="#fff" stroke="#6060ff" stroke-width="0.45"/><rect x="138.67" y="123.70" width="3.40" height="3.40" fill="#fff" stroke="#6060ff" stroke-width="0.45"/><rect x="139.51" y="121.61" width="3.40" height="3.40" fill="#fff" stroke="#6060ff" stroke-width="0.45"/><rect x="140.34" y="119.62" width="3.40" height="3.40" fill="#fff" stroke="#6060ff" stroke-width="0.45"/><rect x="141.18" y="117.73" width="3.40" height="3.40" fill="#fff" stroke="#6060ff" stroke-width="0.45"/><rect x="142.01" y="115.94" width="3.40" height="3.40" fill="#fff" stroke="#6060ff" stroke-width="0.45"/><rect x="142.85" y="114.24" width="3.40" height="3.40" fill="#fff" stroke="#6060ff" stroke-width="0.45"/><rect x="143.68" y="112.63" width="3.40" height="3.40" fill="#fff" stroke="#6060ff" stroke-width="0.45"/><rect x="144.52" y="111.11" width="3.40" height="3.40" fill="#fff" stroke="#6060ff" stroke-width="0.45"/><rect x="145.35" y="109.69" width="3.40" height="3.40" fill="#fff" stroke="#6060ff" stroke-width="0.45"/><rect x="146.18" y="108.36" width="3.40" height="3.40" fill="#fff" stroke="#6060ff" stroke-width="0.45"/><rect x="147.02" y="107.11" width="3.40" height="3.40" fill="#fff" stroke="#6060ff" stroke-width="0.45"/><rect x="147.85" y="105.95" width="3.40" height="3.40" fill="#fff" stroke="#6060ff" stroke-width="0.45"/><rect x="149.52" y="103.89" width="3.40" height="3.40" fill="#fff" stroke="#6060ff" stroke-width="0.45"/><rect x="151.19" y="102.15" width="3.40" height="3.40" fill="#fff" stroke="#6060ff" stroke-width="0.45"/><rect x="152.86" y="100.73" width="3.40" height="3.40" fill="#fff" stroke="#6060ff" stroke-width="0.45"/><rect x="154.53" y="99.61" width="3.40" height="3.40" fill="#fff" stroke="#6060ff" stroke-width="0.45"/><rect x="156.20" y="98.77" width="3.40" height="3.40" fill="#fff" stroke="#6060ff" stroke-width="0.45"/><rect x="157.87" y="98.19" width="3.40" height="3.40" fill="#fff" stroke="#6060ff" stroke-width="0.45"/><rect x="159.54" y="97.85" width="3.40" height="3.40" fill="#fff" stroke="#6060ff" stroke-width="0.45"/><rect x="161.21" y="97.71" width="3.40" height="3.40" fill="#fff" stroke="#6060ff" stroke-width="0.45"/><rect x="162.87" y="97.71" width="3.40" height="3.40" fill="#fff" stroke="#6060ff" stroke-width="0.45"/><rect x="164.54" y="97.86" width="3.40" height="3.40" fill="#fff" stroke="#6060ff" stroke-width="0.45"/><rect x="166.21" y="98.21" width="3.40" height="3.40" fill="#fff" stroke="#6060ff" stroke-width="0.45"/><rect x="167.88" y="98.81" width="3.40" height="3.40" fill="#fff" stroke="#6060ff" stroke-width="0.45"/><rect x="169.55" y="99.67" width="3.40" height="3.40" fill="#fff" stroke="#6060ff" stroke-width="0.45"/><rect x="171.22" y="100.83" width="3.40" height="3.40" fill="#fff" stroke="#6060ff" stroke-width="0.45"/><rect x="172.89" y="102.29" width="3.40" height="3.40" fill="#fff" stroke="#6060ff" stroke-width="0.45"/><rect x="174.56" y="104.08" width="3.40" height="3.40" fill="#fff" stroke="#6060ff" stroke-width="0.45"/><rect x="176.23" y="106.21" width="3.40" height="3.40" fill="#fff" stroke="#6060ff" stroke-width="0.45"/><rect x="177.06" y="107.40" width="3.40" height="3.40" fill="#fff" stroke="#6060ff" stroke-width="0.45"/><rect x="177.90" y="108.69" width="3.40" height="3.40" fill="#fff" stroke="#6060ff" stroke-width="0.45"/><rect x="178.73" y="110.06" width="3.40" height="3.40" fill="#fff" stroke="#6060ff" stroke-width="0.45"/><rect x="179.56" y="111.53" width="3.40" height="3.40" fill="#fff" stroke="#6060ff" stroke-width="0.45"/><rect x="180.40" y="113.09" width="3.40" height="3.40" fill="#fff" stroke="#6060ff" stroke-width="0.45"/><rect x="181.23" y="114.75" width="3.40" height="3.40" fill="#fff" stroke="#6060ff" stroke-width="0.45"/><rect x="182.07" y="116.50" width="3.40" height="3.40" fill="#fff" stroke="#6060ff" stroke-width="0.45"/><rect x="182.90" y="118.35" width="3.40" height="3.40" fill="#fff" stroke="#6060ff" stroke-width="0.45"/><rect x="183.74" y="120.30" width="3.40" height="3.40" fill="#fff" stroke="#6060ff" stroke-width="0.45"/><rect x="184.57" y="122.35" width="3.40" height="3.40" fill="#fff" stroke="#6060ff" stroke-width="0.45"/><rect x="185.41" y="124.50" width="3.40" height="3.40" fill="#fff" stroke="#6060ff" stroke-width="0.45"/><rect x="186.24" y="126.76" width="3.40" height="3.40" fill="#fff" stroke="#6060ff" stroke-width="0.45"/><rect x="187.08" y="129.11" width="3.40" height="3.40" fill="#fff" stroke="#6060ff" stroke-width="0.45"/><rect x="187.91" y="131.57" width="3.40" height="3.40" fill="#fff" stroke="#6060ff" stroke-width="0.45"/><rect x="188.74" y="134.14" width="3.40" height="3.40" fill="#fff" stroke="#6060ff" stroke-width="0.45"/><rect x="189.58" y="136.81" width="3.40" height="3.40" fill="#fff" stroke="#6060ff" stroke-width="0.45"/><rect x="190.41" y="139.59" width="3.40" height="3.40" fill="#fff" stroke="#6060ff" stroke-width="0.45"/><rect x="191.25" y="142.48" width="3.40" height="3.40" fill="#fff" stroke="#6060ff" stroke-width="0.45"/><rect x="192.08" y="145.48" width="3.40" height="3.40" fill="#fff" stroke="#6060ff" stroke-width="0.45"/><rect x="192.92" y="148.59" width="3.40" height="3.40" fill="#fff" stroke="#6060ff" stroke-width="0.45"/><rect x="193.75" y="151.80" width="3.40" height="3.40" fill="#fff" stroke="#6060ff" stroke-width="0.45"/><rect x="194.59" y="155.14" width="3.40" height="3.40" fill="#fff" stroke="#6060ff" stroke-width="0.45"/><rect x="195.42" y="158.58" width="3.40" height="3.40" fill="#fff" stroke="#6060ff" stroke-width="0.45"/><rect x="196.25" y="160.05" width="3.40" height="3.40" fill="#fff" stroke="#6060ff" stroke-width="0.45"/><rect x="197.09" y="158.49" width="3.40" height="3.40" fill="#fff" stroke="#6060ff" stroke-width="0.45"/><rect x="197.92" y="157.01" width="3.40" height="3.40" fill="#fff" stroke="#6060ff" stroke-width="0.45"/><rect x="198.76" y="155.62" width="3.40" height="3.40" fill="#fff" stroke="#6060ff" stroke-width="0.45"/><rect x="199.59" y="154.31" width="3.40" height="3.40" fill="#fff" stroke="#6060ff" stroke-width="0.45"/><rect x="200.43" y="153.08" width="3.40" height="3.40" fill="#fff" stroke="#6060ff" stroke-width="0.45"/><rect x="201.26" y="151.94" width="3.40" height="3.40" fill="#fff" stroke="#6060ff" stroke-width="0.45"/><rect x="202.93" y="149.91" width="3.40" height="3.40" fill="#fff" stroke="#6060ff" stroke-width="0.45"/><rect x="204.60" y="148.22" width="3.40" height="3.40" fill="#fff" stroke="#6060ff" stroke-width="0.45"/><rect x="206.27" y="146.87" width="3.40" height="3.40" fill="#fff" stroke="#6060ff" stroke-width="0.45"/><rect x="207.94" y="145.86" width="3.40" height="3.40" fill="#fff" stroke="#6060ff" stroke-width="0.45"/><rect x="209.61" y="145.18" width="3.40" height="3.40" fill="#fff" stroke="#6060ff" stroke-width="0.45"/><rect x="211.28" y="144.84" width="3.40" height="3.40" fill="#fff" stroke="#6060ff" stroke-width="0.45"/><rect x="212.94" y="144.88" width="3.40" height="3.40" fill="#fff" stroke="#6060ff" stroke-width="0.45"/><rect x="214.61" y="145.49" width="3.40" height="3.40" fill="#fff" stroke="#6060ff" stroke-width="0.45"/><rect x="216.28" y="146.73" width="3.40" height="3.40" fill="#fff" stroke="#6060ff" stroke-width="0.45"/><rect x="217.95" y="148.58" width="3.40" height="3.40" fill="#fff" stroke="#6060ff" stroke-width="0.45"/><rect x="218.79" y="149.73" width="3.40" height="3.40" fill="#fff" stroke="#6060ff" stroke-width="0.45"/><rect x="219.62" y="151.04" width="3.40" height="3.40" fill="#fff" stroke="#6060ff" stroke-width="0.45"/><rect x="220.46" y="152.51" width="3.40" height="3.40" fill="#fff" stroke="#6060ff" stroke-width="0.45"/><rect x="221.29" y="154.12" width="3.40" height="3.40" fill="#fff" stroke="#6060ff" stroke-width="0.45"/><rect x="222.12" y="155.90" width="3.40" height="3.40" fill="#fff" stroke="#6060ff" stroke-width="0.45"/><rect x="222.96" y="157.82" width="3.40" height="3.40" fill="#fff" stroke="#6060ff" stroke-width="0.45"/><rect x="223.79" y="159.90" width="3.40" height="3.40" fill="#fff" stroke="#6060ff" stroke-width="0.45"/><rect x="224.63" y="162.14" width="3.40" height="3.40" fill="#fff" stroke="#6060ff" stroke-width="0.45"/><rect x="225.46" y="164.53" width="3.40" height="3.40" fill="#fff" stroke="#6060ff" stroke-width="0.45"/><rect x="226.30" y="167.07" width="3.40" height="3.40" fill="#fff" stroke="#6060ff" stroke-width="0.45"/><rect x="227.13" y="169.77" width="3.40" height="3.40" fill="#fff" stroke="#6060ff" stroke-width="0.45"/><rect x="227.97" y="172.62" width="3.40" height="3.40" fill="#fff" stroke="#6060ff" stroke-width="0.45"/><rect x="228.80" y="171.42" width="3.40" height="3.40" fill="#fff" stroke="#6060ff" stroke-width="0.45"/><rect x="229.63" y="167.56" width="3.40" height="3.40" fill="#fff" stroke="#6060ff" stroke-width="0.45"/><rect x="230.47" y="163.83" width="3.40" height="3.40" fill="#fff" stroke="#6060ff" stroke-width="0.45"/><rect x="231.30" y="160.22" width="3.40" height="3.40" fill="#fff" stroke="#6060ff" stroke-width="0.45"/><rect x="232.14" y="156.74" width="3.40" height="3.40" fill="#fff" stroke="#6060ff" stroke-width="0.45"/><rect x="232.97" y="153.38" width="3.40" height="3.40" fill="#fff" stroke="#6060ff" stroke-width="0.45"/><rect x="233.81" y="150.15" width="3.40" height="3.40" fill="#fff" stroke="#6060ff" stroke-width="0.45"/><rect x="234.64" y="147.03" width="3.40" height="3.40" fill="#fff" stroke="#6060ff" stroke-width="0.45"/><rect x="235.48" y="144.04" width="3.40" height="3.40" fill="#fff" stroke="#6060ff" stroke-width="0.45"/><rect x="236.31" y="141.16" width="3.40" height="3.40" fill="#fff" stroke="#6060ff" stroke-width="0.45"/><rect x="237.15" y="138.40" width="3.40" height="3.40" fill="#fff" stroke="#6060ff" stroke-width="0.45"/><rect x="237.98" y="135.76" width="3.40" height="3.40" fill="#fff" stroke="#6060ff" stroke-width="0.45"/><rect x="238.81" y="133.24" width="3.40" height="3.40" fill="#fff" stroke="#6060ff" stroke-width="0.45"/><rect x="239.65" y="130.83" width="3.40" height="3.40" fill="#fff" stroke="#6060ff" stroke-width="0.45"/><rect x="240.48" y="128.53" width="3.40" height="3.40" fill="#fff" stroke="#6060ff" stroke-width="0.45"/><rect x="241.32" y="126.34" width="3.40" height="3.40" fill="#fff" stroke="#6060ff" stroke-width="0.45"/><rect x="242.15" y="124.27" width="3.40" height="3.40" fill="#fff" stroke="#6060ff" stroke-width="0.45"/><rect x="242.99" y="122.31" width="3.40" height="3.40" fill="#fff" stroke="#6060ff" stroke-width="0.45"/><rect x="243.82" y="120.45" width="3.40" height="3.40" fill="#fff" stroke="#6060ff" stroke-width="0.45"/><rect x="244.66" y="118.70" width="3.40" height="3.40" fill="#fff" stroke="#6060ff" stroke-width="0.45"/><rect x="245.49" y="117.05" width="3.40" height="3.40" fill="#fff" stroke="#6060ff" stroke-width="0.45"/><rect x="246.32" y="115.51" width="3.40" height="3.40" fill="#fff" stroke="#6060ff" stroke-width="0.45"/><rect x="247.16" y="114.07" width="3.40" height="3.40" fill="#fff" stroke="#6060ff" stroke-width="0.45"/><rect x="247.99" y="112.73" width="3.40" height="3.40" fill="#fff" stroke="#6060ff" stroke-width="0.45"/><rect x="248.83" y="111.49" width="3.40" height="3.40" fill="#fff" stroke="#6060ff" stroke-width="0.45"/><rect x="249.66" y="110.35" width="3.40" height="3.40" fill="#fff" stroke="#6060ff" stroke-width="0.45"/><rect x="251.33" y="108.34" width="3.40" height="3.40" fill="#fff" stroke="#6060ff" stroke-width="0.45"/><rect x="253.00" y="106.70" width="3.40" height="3.40" fill="#fff" stroke="#6060ff" stroke-width="0.45"/><rect x="254.67" y="105.41" width="3.40" height="3.40" fill="#fff" stroke="#6060ff" stroke-width="0.45"/><rect x="256.34" y="104.44" width="3.40" height="3.40" fill="#fff" stroke="#6060ff" stroke-width="0.45"/><rect x="258.01" y="103.77" width="3.40" height="3.40" fill="#fff" stroke="#6060ff" stroke-width="0.45"/><rect x="259.68" y="103.38" width="3.40" height="3.40" fill="#fff" stroke="#6060ff" stroke-width="0.45"/><rect x="261.35" y="103.21" width="3.40" height="3.40" fill="#fff" stroke="#6060ff" stroke-width="0.45"/><rect x="263.01" y="103.21" width="3.40" height="3.40" fill="#fff" stroke="#6060ff" stroke-width="0.45"/><rect x="264.68" y="103.36" width="3.40" height="3.40" fill="#fff" stroke="#6060ff" stroke-width="0.45"/><rect x="266.35" y="103.70" width="3.40" height="3.40" fill="#fff" stroke="#6060ff" stroke-width="0.45"/><rect x="268.02" y="104.29" width="3.40" height="3.40" fill="#fff" stroke="#6060ff" stroke-width="0.45"/><rect x="269.69" y="105.14" width="3.40" height="3.40" fill="#fff" stroke="#6060ff" stroke-width="0.45"/><rect x="271.36" y="106.28" width="3.40" height="3.40" fill="#fff" stroke="#6060ff" stroke-width="0.45"/><rect x="273.03" y="107.72" width="3.40" height="3.40" fill="#fff" stroke="#6060ff" stroke-width="0.45"/><rect x="274.70" y="109.49" width="3.40" height="3.40" fill="#fff" stroke="#6060ff" stroke-width="0.45"/><rect x="276.37" y="111.59" width="3.40" height="3.40" fill="#fff" stroke="#6060ff" stroke-width="0.45"/><rect x="277.20" y="112.76" width="3.40" height="3.40" fill="#fff" stroke="#6060ff" stroke-width="0.45"/><rect x="278.04" y="114.03" width="3.40" height="3.40" fill="#fff" stroke="#6060ff" stroke-width="0.45"/><rect x="278.87" y="115.39" width="3.40" height="3.40" fill="#fff" stroke="#6060ff" stroke-width="0.45"/><rect x="279.70" y="116.83" width="3.40" height="3.40" fill="#fff" stroke="#6060ff" stroke-width="0.45"/><rect x="280.54" y="118.37" width="3.40" height="3.40" fill="#fff" stroke="#6060ff" stroke-width="0.45"/><rect x="281.37" y="120.01" width="3.40" height="3.40" fill="#fff" stroke="#6060ff" stroke-width="0.45"/><rect x="282.21" y="121.73" width="3.40" height="3.40" fill="#fff" stroke="#6060ff" stroke-width="0.45"/><rect x="283.04" y="123.56" width="3.40" height="3.40" fill="#fff" stroke="#6060ff" stroke-width="0.45"/><rect x="283.88" y="125.48" width="3.40" height="3.40" fill="#fff" stroke="#6060ff" stroke-width="0.45"/><rect x="284.71" y="127.50" width="3.40" height="3.40" fill="#fff" stroke="#6060ff" stroke-width="0.45"/><rect x="285.55" y="129.62" width="3.40" height="3.40" fill="#fff" stroke="#6060ff" stroke-width="0.45"/><rect x="286.38" y="131.84" width="3.40" height="3.40" fill="#fff" stroke="#6060ff" stroke-width="0.45"/><rect x="287.22" y="134.16" width="3.40" height="3.40" fill="#fff" stroke="#6060ff" stroke-width="0.45"/><rect x="288.05" y="136.59" width="3.40" height="3.40" fill="#fff" stroke="#6060ff" stroke-width="0.45"/><rect x="288.88" y="139.12" width="3.40" height="3.40" fill="#fff" stroke="#6060ff" stroke-width="0.45"/><rect x="289.72" y="141.75" width="3.40" height="3.40" fill="#fff" stroke="#6060ff" stroke-width="0.45"/><rect x="290.55" y="144.49" width="3.40" height="3.40" fill="#fff" stroke="#6060ff" stroke-width="0.45"/><rect x="291.39" y="147.34" width="3.40" height="3.40" fill="#fff" stroke="#6060ff" stroke-width="0.45"/><rect x="292.22" y="150.30" width="3.40" height="3.40" fill="#fff" stroke="#6060ff" stroke-width="0.45"/><rect x="293.06" y="153.36" width="3.40" height="3.40" fill="#fff" stroke="#6060ff" stroke-width="0.45"/><rect x="293.89" y="156.53" width="3.40" height="3.40" fill="#fff" stroke="#6060ff" stroke-width="0.45"/><rect x="294.73" y="159.81" width="3.40" height="3.40" fill="#fff" stroke="#6060ff" stroke-width="0.45"/><rect x="295.56" y="163.21" width="3.40" height="3.40" fill="#fff" stroke="#6060ff" stroke-width="0.45"/><rect x="297.23" y="161.89" width="3.40" height="3.40" fill="#fff" stroke="#6060ff" stroke-width="0.45"/><rect x="298.06" y="159.61" width="3.40" height="3.40" fill="#fff" stroke="#6060ff" stroke-width="0.45"/><rect x="298.90" y="157.46" width="3.40" height="3.40" fill="#fff" stroke="#6060ff" stroke-width="0.45"/><rect x="299.73" y="155.45" width="3.40" height="3.40" fill="#fff" stroke="#6060ff" stroke-width="0.45"/><rect x="300.57" y="153.56" width="3.40" height="3.40" fill="#fff" stroke="#6060ff" stroke-width="0.45"/><rect x="301.40" y="151.80" width="3.40" height="3.40" fill="#fff" stroke="#6060ff" stroke-width="0.45"/><rect x="302.24" y="150.17" width="3.40" height="3.40" fill="#fff" stroke="#6060ff" stroke-width="0.45"/><rect x="303.07" y="148.68" width="3.40" height="3.40" fill="#fff" stroke="#6060ff" stroke-width="0.45"/><rect x="303.91" y="147.31" width="3.40" height="3.40" fill="#fff" stroke="#6060ff" stroke-width="0.45"/><rect x="304.74" y="146.07" width="3.40" height="3.40" fill="#fff" stroke="#6060ff" stroke-width="0.45"/><rect x="306.41" y="143.99" width="3.40" height="3.40" fill="#fff" stroke="#6060ff" stroke-width="0.45"/><rect x="308.08" y="142.43" width="3.40" height="3.40" fill="#fff" stroke="#6060ff" stroke-width="0.45"/><rect x="309.75" y="141.39" width="3.40" height="3.40" fill="#fff" stroke="#6060ff" stroke-width="0.45"/><rect x="311.42" y="140.87" width="3.40" height="3.40" fill="#fff" stroke="#6060ff" stroke-width="0.45"/><rect x="313.08" y="140.87" width="3.40" height="3.40" fill="#fff" stroke="#6060ff" stroke-width="0.45"/><rect x="314.75" y="141.39" width="3.40" height="3.40" fill="#fff" stroke="#6060ff" stroke-width="0.45"/><rect x="316.42" y="142.43" width="3.40" height="3.40" fill="#fff" stroke="#6060ff" stroke-width="0.45"/><rect x="318.09" y="143.99" width="3.40" height="3.40" fill="#fff" stroke="#6060ff" stroke-width="0.45"/><rect x="319.76" y="146.07" width="3.40" height="3.40" fill="#fff" stroke="#6060ff" stroke-width="0.45"/><rect x="320.60" y="147.31" width="3.40" height="3.40" fill="#fff" stroke="#6060ff" stroke-width="0.45"/><rect x="321.43" y="148.68" width="3.40" height="3.40" fill="#fff" stroke="#6060ff" stroke-width="0.45"/><rect x="322.26" y="150.17" width="3.40" height="3.40" fill="#fff" stroke="#6060ff" stroke-width="0.45"/><rect x="323.10" y="151.80" width="3.40" height="3.40" fill="#fff" stroke="#6060ff" stroke-width="0.45"/><rect x="323.93" y="153.56" width="3.40" height="3.40" fill="#fff" stroke="#6060ff" stroke-width="0.45"/><rect x="324.77" y="155.45" width="3.40" height="3.40" fill="#fff" stroke="#6060ff" stroke-width="0.45"/><rect x="325.60" y="157.46" width="3.40" height="3.40" fill="#fff" stroke="#6060ff" stroke-width="0.45"/><rect x="326.44" y="159.61" width="3.40" height="3.40" fill="#fff" stroke="#6060ff" stroke-width="0.45"/><rect x="327.27" y="161.89" width="3.40" height="3.40" fill="#fff" stroke="#6060ff" stroke-width="0.45"/><rect x="328.11" y="164.30" width="3.40" height="3.40" fill="#fff" stroke="#6060ff" stroke-width="0.45"/><rect x="329.77" y="159.91" width="3.40" height="3.40" fill="#fff" stroke="#6060ff" stroke-width="0.45"/><rect x="330.61" y="156.69" width="3.40" height="3.40" fill="#fff" stroke="#6060ff" stroke-width="0.45"/><rect x="331.44" y="153.57" width="3.40" height="3.40" fill="#fff" stroke="#6060ff" stroke-width="0.45"/><rect x="332.28" y="150.56" width="3.40" height="3.40" fill="#fff" stroke="#6060ff" stroke-width="0.45"/><rect x="333.11" y="147.66" width="3.40" height="3.40" fill="#fff" stroke="#6060ff" stroke-width="0.45"/><rect x="333.95" y="144.86" width="3.40" height="3.40" fill="#fff" stroke="#6060ff" stroke-width="0.45"/><rect x="334.78" y="142.17" width="3.40" height="3.40" fill="#fff" stroke="#6060ff" stroke-width="0.45"/><rect x="335.62" y="139.58" width="3.40" height="3.40" fill="#fff" stroke="#6060ff" stroke-width="0.45"/><rect x="336.45" y="137.10" width="3.40" height="3.40" fill="#fff" stroke="#6060ff" stroke-width="0.45"/><rect x="337.29" y="134.72" width="3.40" height="3.40" fill="#fff" stroke="#6060ff" stroke-width="0.45"/><rect x="338.12" y="132.43" width="3.40" height="3.40" fill="#fff" stroke="#6060ff" stroke-width="0.45"/><rect x="338.95" y="130.25" width="3.40" height="3.40" fill="#fff" stroke="#6060ff" stroke-width="0.45"/><rect x="339.79" y="128.17" width="3.40" height="3.40" fill="#fff" stroke="#6060ff" stroke-width="0.45"/><rect x="340.62" y="126.19" width="3.40" height="3.40" fill="#fff" stroke="#6060ff" stroke-width="0.45"/><rect x="341.46" y="124.30" width="3.40" height="3.40" fill="#fff" stroke="#6060ff" stroke-width="0.45"/><rect x="342.29" y="122.51" width="3.40" height="3.40" fill="#fff" stroke="#6060ff" stroke-width="0.45"/><rect x="343.13" y="120.81" width="3.40" height="3.40" fill="#fff" stroke="#6060ff" stroke-width="0.45"/><rect x="343.96" y="119.20" width="3.40" height="3.40" fill="#fff" stroke="#6060ff" stroke-width="0.45"/><rect x="344.80" y="117.69" width="3.40" height="3.40" fill="#fff" stroke="#6060ff" stroke-width="0.45"/><rect x="345.63" y="116.27" width="3.40" height="3.40" fill="#fff" stroke="#6060ff" stroke-width="0.45"/><rect x="346.46" y="114.94" width="3.40" height="3.40" fill="#fff" stroke="#6060ff" stroke-width="0.45"/><rect x="347.30" y="113.69" width="3.40" height="3.40" fill="#fff" stroke="#6060ff" stroke-width="0.45"/><rect x="348.13" y="112.54" width="3.40" height="3.40" fill="#fff" stroke="#6060ff" stroke-width="0.45"/><rect x="349.80" y="110.48" width="3.40" height="3.40" fill="#fff" stroke="#6060ff" stroke-width="0.45"/><rect x="351.47" y="108.74" width="3.40" height="3.40" fill="#fff" stroke="#6060ff" stroke-width="0.45"/><rect x="353.14" y="107.33" width="3.40" height="3.40" fill="#fff" stroke="#6060ff" stroke-width="0.45"/><rect x="354.81" y="106.21" width="3.40" height="3.40" fill="#fff" stroke="#6060ff" stroke-width="0.45"/><rect x="356.48" y="105.37" width="3.40" height="3.40" fill="#fff" stroke="#6060ff" stroke-width="0.45"/><rect x="358.15" y="104.79" width="3.40" height="3.40" fill="#fff" stroke="#6060ff" stroke-width="0.45"/><rect x="359.82" y="104.45" width="3.40" height="3.40" fill="#fff" stroke="#6060ff" stroke-width="0.45"/><rect x="361.49" y="104.31" width="3.40" height="3.40" fill="#fff" stroke="#6060ff" stroke-width="0.45"/><line x1="64.2" y1="16" x2="64.2" y2="268.5" stroke="#000" stroke-width="2"/><line x1="59.5" y1="262.6" x2="400.8" y2="262.6" stroke="#000" stroke-width="2.2"/><line x1="59.4" y1="237.90" x2="64.2" y2="237.90" stroke="#000" stroke-width="1.3"/><line x1="61.4" y1="213.24" x2="64.2" y2="213.24" stroke="#000" stroke-width="1.3"/><line x1="59.4" y1="188.58" x2="64.2" y2="188.58" stroke="#000" stroke-width="1.3"/><line x1="61.4" y1="163.92" x2="64.2" y2="163.92" stroke="#000" stroke-width="1.3"/><line x1="59.4" y1="139.26" x2="64.2" y2="139.26" stroke="#000" stroke-width="1.3"/><line x1="61.4" y1="114.60" x2="64.2" y2="114.60" stroke="#000" stroke-width="1.3"/><line x1="59.4" y1="89.94" x2="64.2" y2="89.94" stroke="#000" stroke-width="1.3"/><line x1="61.4" y1="65.28" x2="64.2" y2="65.28" stroke="#000" stroke-width="1.3"/><line x1="59.4" y1="40.62" x2="64.2" y2="40.62" stroke="#000" stroke-width="1.3"/><line x1="61.4" y1="15.96" x2="64.2" y2="15.96" stroke="#000" stroke-width="1.3"/><line x1="64.20" y1="262.6" x2="64.20" y2="268.10" stroke="#000" stroke-width="1.3"/><line x1="114.27" y1="262.6" x2="114.27" y2="266.10" stroke="#000" stroke-width="1.3"/><line x1="164.34" y1="262.6" x2="164.34" y2="268.10" stroke="#000" stroke-width="1.3"/><line x1="214.41" y1="262.6" x2="214.41" y2="266.10" stroke="#000" stroke-width="1.3"/><line x1="264.48" y1="262.6" x2="264.48" y2="268.10" stroke="#000" stroke-width="1.3"/><line x1="314.55" y1="262.6" x2="314.55" y2="266.10" stroke="#000" stroke-width="1.3"/><line x1="364.62" y1="262.6" x2="364.62" y2="268.10" stroke="#000" stroke-width="1.3"/><line x1="398.8" y1="16.6" x2="398.8" y2="263" stroke="#bdbdbd" stroke-width="1.8"/><line x1="397.3" y1="16.6" x2="397.3" y2="263" stroke="#000" stroke-width="1.4"/><line x1="400.3" y1="15.5" x2="400.3" y2="263.5" stroke="#000" stroke-width="1.4"/><line x1="400.3" y1="205.65" x2="403.6" y2="205.65" stroke="#000" stroke-width="1.3"/><line x1="400.3" y1="110.80" x2="403.6" y2="110.80" stroke="#000" stroke-width="1.3"/><line x1="400.3" y1="15.95" x2="403.6" y2="15.95" stroke="#000" stroke-width="1.3"/><line x1="370.30" y1="87.40" x2="390.54" y2="89.79" stroke="#000" stroke-width="1.9"/><polygon points="396.50,90.50 388.18,92.74 391.04,89.85 388.93,86.38" fill="#000"/><line x1="370.30" y1="105.30" x2="390.55" y2="107.85" stroke="#000" stroke-width="1.9"/><polygon points="396.50,108.60 388.16,110.78 391.04,107.91 388.96,104.43" fill="#000"/><line x1="247.40" y1="21.80" x2="262.90" y2="22.38" stroke="#000" stroke-width="1.9"/><polygon points="268.90,22.60 260.79,25.50 263.40,22.40 261.02,19.10" fill="#000"/><line x1="181.9" y1="5.2" x2="209.4" y2="5.2" stroke="#aaa" stroke-width="1"/><rect x="194" y="3.5" width="3.5" height="3.5" fill="#ff0000"/><line x1="181.9" y1="20.6" x2="209.4" y2="20.6" stroke="#aaa" stroke-width="1"/><rect x="194" y="18.9" width="3.5" height="3.5" fill="#0000ff"/><polyline points="64.50,486.40 65.70,486.38 66.91,486.31 68.11,486.19 69.31,486.01 70.52,485.77 71.72,485.46 72.93,485.09 74.13,484.66 75.33,484.16 76.54,483.59 77.74,482.95 78.95,482.23 80.15,481.45 81.35,480.60 82.56,479.67 83.76,478.67 84.97,477.59 86.17,476.44 87.37,475.21 88.58,473.91 89.78,472.52 90.98,471.07 92.19,469.53 93.39,467.91 94.60,466.21 95.80,464.44 97.00,462.58 98.21,460.65 99.41,458.63 100.61,456.53 101.82,454.35 103.02,452.08 104.23,449.73 105.43,447.30 106.63,444.79 107.84,442.19 109.04,439.51 110.25,436.74 111.45,433.89 112.65,430.95 113.86,427.93 115.06,424.82 115.60,423.40 116.27,424.99 117.47,427.79 118.67,430.52 119.88,433.16 121.08,435.72 122.28,438.20 123.49,440.59 124.69,442.91 125.90,445.15 127.10,447.30 128.30,449.38 129.51,451.37 130.71,453.29 131.91,455.12 133.12,456.88 134.32,458.56 135.53,460.16 136.73,461.68 137.93,463.12 139.14,464.49 140.34,465.78 141.55,466.99 142.75,468.13 143.95,469.19 145.16,470.18 146.36,471.09 147.56,471.93 148.77,472.69 149.97,473.38 151.18,474.00 152.38,474.55 153.58,475.03 154.79,475.44 155.99,475.77 157.20,476.05 158.40,476.25 159.60,476.39 160.81,476.48 162.00,476.50 162.01,476.50 163.22,476.47 164.42,476.39 165.62,476.24 166.83,476.03 168.03,475.75 169.23,475.40 170.44,474.98 171.64,474.49 172.85,473.92 174.05,473.28 175.25,472.57 176.46,471.78 177.66,470.92 178.87,469.98 180.07,468.97 181.27,467.87 182.48,466.70 183.68,465.45 184.88,464.13 186.09,462.72 187.29,461.23 188.50,459.67 189.70,458.02 190.90,456.29 192.11,454.49 193.31,452.60 194.51,450.62 195.72,448.57 196.92,446.44 198.13,444.22 199.33,441.92 200.53,439.54 201.74,437.07 202.94,434.52 204.15,431.89 205.35,429.17 206.55,426.36 207.76,423.48 208.96,420.50 210.16,417.45 211.37,414.31 212.57,411.08 213.78,407.76 214.98,404.36 215.80,402.00 216.18,403.03 217.39,406.20 218.59,409.26 219.79,412.23 221.00,415.09 222.20,417.86 223.41,420.52 224.61,423.09 225.81,425.56 227.02,427.92 228.22,430.20 229.43,432.37 230.63,434.45 231.83,436.44 233.04,438.32 234.24,440.12 235.44,441.82 236.65,443.42 237.85,444.94 239.06,446.36 240.26,447.69 241.46,448.93 242.67,450.08 243.87,451.15 245.08,452.12 246.28,453.01 247.48,453.82 248.69,454.54 249.89,455.17 251.09,455.73 252.30,456.20 253.50,456.60 254.71,456.92 255.91,457.17 257.11,457.34 258.32,457.45 259.52,457.50 260.00,457.50 260.73,457.49 261.93,457.45 263.13,457.36 264.34,457.22 265.54,457.02 266.75,456.77 267.95,456.45 269.15,456.06 270.36,455.61 271.56,455.10 272.76,454.51 273.97,453.86 275.17,453.13 276.38,452.33 277.58,451.46 278.78,450.51 279.99,449.49 281.19,448.39 282.39,447.21 283.60,445.95 284.80,444.62 286.01,443.20 287.21,441.70 288.41,440.12 289.62,438.46 290.82,436.72 292.03,434.89 293.23,432.98 294.43,430.98 295.64,428.90 296.84,426.73 298.05,424.48 299.25,422.13 300.45,419.70 301.66,417.19 302.86,414.58 304.06,411.88 305.27,409.09 306.47,406.22 307.68,403.25 308.88,400.19 310.08,397.04 311.29,393.79 312.49,390.46 313.69,387.03 314.90,383.50 316.00,380.20 316.10,380.51 317.31,384.13 318.51,387.63 319.71,391.01 320.92,394.29 322.12,397.46 323.33,400.51 324.53,403.46 325.73,406.30 326.94,409.03 328.14,411.66 329.35,414.19 330.55,416.61 331.75,418.93 332.96,421.15 334.16,423.28 335.36,425.30 336.57,427.23 337.77,429.07 338.98,430.81 340.18,432.45 341.38,434.01 342.59,435.48 343.79,436.86 345.00,438.16 346.20,439.37 347.40,440.50 348.61,441.54 349.81,442.51 351.01,443.40 352.22,444.22 353.42,444.96 354.62,445.63 355.83,446.23 357.03,446.76 358.24,447.23 359.44,447.63 360.64,447.98 361.85,448.26 363.05,448.50 364.26,448.68" fill="none" stroke="#ff0000" stroke-width="4.8" stroke-linejoin="round" /><polyline points="64.50,486.50 65.70,486.44 66.91,486.28 68.11,486.04 69.31,485.72 70.52,485.32 71.72,484.84 72.93,484.30 74.13,483.68 75.33,482.99 76.54,482.24 77.74,481.42 78.95,480.53 80.15,479.58 81.35,478.56 82.56,477.48 83.76,476.34 84.97,475.13 86.17,473.86 87.37,472.53 88.58,471.14 89.78,469.69 90.98,468.18 92.19,466.61 93.39,464.98 94.60,463.29 95.80,461.55 97.00,459.74 98.21,457.88 99.41,455.96 100.00,455.00 100.61,456.69 101.82,459.92 103.02,463.07 104.23,466.14 105.43,469.12 106.63,472.02 107.84,474.84 109.04,477.57 110.25,480.22 111.45,482.79 112.65,485.27 113.86,487.67 115.06,489.99 116.27,492.23 117.47,494.39 118.67,496.47 119.88,498.46 121.08,500.37 122.28,502.21 123.49,503.96 124.69,505.64 125.90,507.23 127.10,508.75 128.30,510.19 129.51,511.55 130.71,512.83 131.91,514.04 133.12,515.16 134.32,516.21 135.53,517.19 136.73,518.09 137.93,518.91 139.14,519.67 140.34,520.34 141.55,520.95 142.75,521.48 143.95,521.94 145.16,522.33 146.36,522.66 147.56,522.91 148.77,523.10 149.97,523.22 151.18,523.29 152.00,523.30 152.38,523.30 153.58,523.29 154.79,523.28 155.99,523.24 157.20,523.18 158.40,523.09 159.60,522.96 160.81,522.81 162.01,522.61 163.22,522.38 164.42,522.10 165.62,521.77 166.83,521.40 168.03,520.97 169.23,520.48 170.44,519.94 171.64,519.34 172.85,518.68 174.05,517.95 175.25,517.16 176.46,516.30 177.66,515.37 178.87,514.36 180.07,513.29 181.27,512.13 182.48,510.90 183.68,509.58 184.88,508.19 186.09,506.71 187.29,505.14 188.50,503.48 189.70,501.74 190.90,499.90 192.11,497.97 193.31,495.95 194.51,493.83 195.72,491.61 196.92,489.29 198.13,486.87 199.33,484.34 200.53,481.72 201.74,478.98 202.94,476.14 204.15,473.19 205.35,470.12 206.55,466.94 207.76,463.65 208.96,460.25 210.16,456.72 211.37,453.08 212.57,449.32 213.78,445.43 214.98,441.43 216.18,437.30 217.39,433.04" fill="none" stroke="#0000ff" stroke-width="4.8" stroke-linejoin="round" /><polyline points="230.63,377.51 230.90,376.20 231.83,377.42 233.04,378.95 234.24,380.41 235.44,381.81 236.65,383.14 237.85,384.41 239.06,385.62 240.26,386.76 241.46,387.83 242.67,388.83 243.87,389.77 245.08,390.63 246.28,391.41 247.48,392.12 248.69,392.75 249.89,393.29 251.09,393.74 252.30,394.10 253.50,394.36 254.71,394.49 255.00,394.50 255.91,394.49 257.11,394.44 258.32,394.34 259.52,394.16 260.73,393.92 261.93,393.60 263.13,393.20 264.34,392.72 265.54,392.15 266.75,391.48 267.95,390.72 269.15,389.87 270.36,388.91 271.56,387.85 272.76,386.69 273.97,385.42 275.17,384.04 276.38,382.54 277.58,380.94 278.78,379.22 279.99,377.38 281.19,375.42 282.39,373.34 283.60,371.14 284.80,368.82 286.01,366.37 287.21,363.80 288.41,361.09 289.62,358.26 290.82,355.29 292.03,352.20 293.23,348.97 294.43,345.60 295.64,342.10 296.84,338.46 298.05,334.68 299.25,330.76 300.45,326.71 300.60,326.20" fill="none" stroke="#0000ff" stroke-width="4.8" stroke-linejoin="round" /><polyline points="312.49,378.11 313.69,382.36 314.90,386.43 316.10,390.34 317.31,394.08 318.51,397.66 319.71,401.08 320.92,404.35 322.12,407.47 323.33,410.44 324.53,413.26 325.73,415.95 326.94,418.50 328.14,420.92 329.35,423.21 330.55,425.37 331.75,427.41 332.96,429.34 334.16,431.15 335.36,432.84 336.57,434.43 337.77,435.92 338.98,437.30 340.18,438.59 341.38,439.78 342.59,440.88 343.79,441.90 345.00,442.83 346.20,443.68 347.40,444.46 348.61,445.16 349.81,445.80 351.01,446.37 352.22,446.88 353.42,447.33 354.62,447.72 355.83,448.07 357.03,448.36 358.24,448.62 359.44,448.83 360.64,449.00 361.85,449.15 363.05,449.26 364.26,449.34" fill="none" stroke="#0000ff" stroke-width="4.8" stroke-linejoin="round" /><rect x="215.49" y="431.14" width="3.80" height="3.80" fill="#0000ff"/><rect x="216.69" y="426.75" width="3.80" height="3.80" fill="#0000ff"/><rect x="216.69" y="426.75" width="3.80" height="3.80" fill="#0000ff"/><rect x="217.89" y="422.24" width="3.80" height="3.80" fill="#0000ff"/><rect x="217.89" y="422.24" width="3.80" height="3.80" fill="#0000ff"/><rect x="219.10" y="417.60" width="3.80" height="3.80" fill="#0000ff"/><rect x="219.10" y="417.60" width="3.80" height="3.80" fill="#0000ff"/><rect x="220.30" y="412.82" width="3.80" height="3.80" fill="#0000ff"/><rect x="220.30" y="412.82" width="3.80" height="3.80" fill="#0000ff"/><rect x="221.51" y="407.91" width="3.80" height="3.80" fill="#0000ff"/><rect x="221.51" y="407.91" width="3.80" height="3.80" fill="#0000ff"/><rect x="222.71" y="402.87" width="3.80" height="3.80" fill="#0000ff"/><rect x="222.71" y="402.87" width="3.80" height="3.80" fill="#0000ff"/><rect x="223.91" y="397.69" width="3.80" height="3.80" fill="#0000ff"/><rect x="223.91" y="397.69" width="3.80" height="3.80" fill="#0000ff"/><rect x="225.12" y="392.38" width="3.80" height="3.80" fill="#0000ff"/><rect x="225.12" y="392.38" width="3.80" height="3.80" fill="#0000ff"/><rect x="226.32" y="386.93" width="3.80" height="3.80" fill="#0000ff"/><rect x="226.32" y="386.93" width="3.80" height="3.80" fill="#0000ff"/><rect x="227.53" y="381.34" width="3.80" height="3.80" fill="#0000ff"/><rect x="227.53" y="381.34" width="3.80" height="3.80" fill="#0000ff"/><rect x="228.73" y="375.61" width="3.80" height="3.80" fill="#0000ff"/><rect x="298.70" y="324.30" width="3.80" height="3.80" fill="#0000ff"/><rect x="299.76" y="329.69" width="3.80" height="3.80" fill="#0000ff"/><rect x="299.76" y="329.69" width="3.80" height="3.80" fill="#0000ff"/><rect x="300.96" y="335.64" width="3.80" height="3.80" fill="#0000ff"/><rect x="300.96" y="335.64" width="3.80" height="3.80" fill="#0000ff"/><rect x="302.16" y="341.39" width="3.80" height="3.80" fill="#0000ff"/><rect x="302.16" y="341.39" width="3.80" height="3.80" fill="#0000ff"/><rect x="303.37" y="346.94" width="3.80" height="3.80" fill="#0000ff"/><rect x="303.37" y="346.94" width="3.80" height="3.80" fill="#0000ff"/><rect x="304.57" y="352.29" width="3.80" height="3.80" fill="#0000ff"/><rect x="304.57" y="352.29" width="3.80" height="3.80" fill="#0000ff"/><rect x="305.78" y="357.45" width="3.80" height="3.80" fill="#0000ff"/><rect x="305.78" y="357.45" width="3.80" height="3.80" fill="#0000ff"/><rect x="306.98" y="362.41" width="3.80" height="3.80" fill="#0000ff"/><rect x="306.98" y="362.41" width="3.80" height="3.80" fill="#0000ff"/><rect x="308.18" y="367.19" width="3.80" height="3.80" fill="#0000ff"/><rect x="308.18" y="367.19" width="3.80" height="3.80" fill="#0000ff"/><rect x="309.39" y="371.79" width="3.80" height="3.80" fill="#0000ff"/><rect x="309.39" y="371.79" width="3.80" height="3.80" fill="#0000ff"/><rect x="310.59" y="376.21" width="3.80" height="3.80" fill="#0000ff"/><line x1="64.8" y1="296" x2="64.8" y2="543.8" stroke="#000" stroke-width="1.8"/><line x1="60.7" y1="411.0" x2="400.5" y2="411.0" stroke="#000" stroke-width="1.9"/><line x1="62.0" y1="543.39" x2="64.8" y2="543.39" stroke="#000" stroke-width="1.3"/><line x1="60.0" y1="524.42" x2="64.8" y2="524.42" stroke="#000" stroke-width="1.3"/><line x1="62.0" y1="505.45" x2="64.8" y2="505.45" stroke="#000" stroke-width="1.3"/><line x1="60.0" y1="486.48" x2="64.8" y2="486.48" stroke="#000" stroke-width="1.3"/><line x1="62.0" y1="467.51" x2="64.8" y2="467.51" stroke="#000" stroke-width="1.3"/><line x1="60.0" y1="448.54" x2="64.8" y2="448.54" stroke="#000" stroke-width="1.3"/><line x1="62.0" y1="429.57" x2="64.8" y2="429.57" stroke="#000" stroke-width="1.3"/><line x1="60.0" y1="410.60" x2="64.8" y2="410.60" stroke="#000" stroke-width="1.3"/><line x1="62.0" y1="391.63" x2="64.8" y2="391.63" stroke="#000" stroke-width="1.3"/><line x1="60.0" y1="372.66" x2="64.8" y2="372.66" stroke="#000" stroke-width="1.3"/><line x1="62.0" y1="353.69" x2="64.8" y2="353.69" stroke="#000" stroke-width="1.3"/><line x1="60.0" y1="334.72" x2="64.8" y2="334.72" stroke="#000" stroke-width="1.3"/><line x1="62.0" y1="315.75" x2="64.8" y2="315.75" stroke="#000" stroke-width="1.3"/><line x1="60.0" y1="296.78" x2="64.8" y2="296.78" stroke="#000" stroke-width="1.3"/><line x1="64.50" y1="411" x2="64.50" y2="415.00" stroke="#000" stroke-width="1.2"/><line x1="114.66" y1="411" x2="114.66" y2="414.00" stroke="#000" stroke-width="1.2"/><line x1="164.82" y1="411" x2="164.82" y2="415.00" stroke="#000" stroke-width="1.2"/><line x1="214.98" y1="411" x2="214.98" y2="414.00" stroke="#000" stroke-width="1.2"/><line x1="265.14" y1="411" x2="265.14" y2="415.00" stroke="#000" stroke-width="1.2"/><line x1="315.30" y1="411" x2="315.30" y2="414.00" stroke="#000" stroke-width="1.2"/><line x1="365.46" y1="411" x2="365.46" y2="415.00" stroke="#000" stroke-width="1.2"/><text x="55.50" y="243.10" font-size="14.5" font-family="Liberation Sans, sans-serif" text-anchor="end" >50</text><text x="55.50" y="193.78" font-size="14.5" font-family="Liberation Sans, sans-serif" text-anchor="end" >52</text><text x="55.50" y="144.46" font-size="14.5" font-family="Liberation Sans, sans-serif" text-anchor="end" >54</text><text x="55.50" y="95.14" font-size="14.5" font-family="Liberation Sans, sans-serif" text-anchor="end" >56</text><text x="55.50" y="45.82" font-size="14.5" font-family="Liberation Sans, sans-serif" text-anchor="end" >58</text><text x="407.00" y="210.65" font-size="14.5" font-family="Liberation Sans, sans-serif" text-anchor="start" >135</text><text x="407.00" y="115.80" font-size="14.5" font-family="Liberation Sans, sans-serif" text-anchor="start" >140</text><text x="407.00" y="20.95" font-size="14.5" font-family="Liberation Sans, sans-serif" text-anchor="start" >145</text><text x="64.20" y="283.50" font-size="14.5" font-family="Liberation Sans, sans-serif" text-anchor="middle" >0</text><text x="164.34" y="283.50" font-size="14.5" font-family="Liberation Sans, sans-serif" text-anchor="middle" >60</text><text x="264.48" y="283.50" font-size="14.5" font-family="Liberation Sans, sans-serif" text-anchor="middle" >120</text><text x="364.62" y="283.50" font-size="14.5" font-family="Liberation Sans, sans-serif" text-anchor="middle" >180</text><text x="56.50" y="300.98" font-size="14.0" font-family="Liberation Sans, sans-serif" text-anchor="end" >6</text><text x="56.50" y="338.92" font-size="14.0" font-family="Liberation Sans, sans-serif" text-anchor="end" >4</text><text x="56.50" y="376.86" font-size="14.0" font-family="Liberation Sans, sans-serif" text-anchor="end" >2</text><text x="56.50" y="452.74" font-size="14.0" font-family="Liberation Sans, sans-serif" text-anchor="end" >-2</text><text x="56.50" y="490.68" font-size="14.0" font-family="Liberation Sans, sans-serif" text-anchor="end" >-4</text><text x="56.50" y="528.62" font-size="14.0" font-family="Liberation Sans, sans-serif" text-anchor="end" >-6</text><text x="56.50" y="415.60" font-size="14.0" font-family="Liberation Sans, sans-serif" text-anchor="end" >0</text><text x="64.50" y="430.30" font-size="14.0" font-family="Liberation Sans, sans-serif" text-anchor="middle" >0</text><text x="164.82" y="430.30" font-size="14.0" font-family="Liberation Sans, sans-serif" text-anchor="middle" >60</text><text x="265.14" y="430.30" font-size="14.0" font-family="Liberation Sans, sans-serif" text-anchor="middle" >120</text><text x="365.46" y="430.30" font-size="14.0" font-family="Liberation Sans, sans-serif" text-anchor="middle" >180</text><g transform="translate(6.9,37.7) scale(0.95,1)"><text x="0.00" y="0.00" font-size="28.5" font-family="Liberation Serif, serif" text-anchor="start" >A</text></g><g transform="translate(5.6,319.7) scale(0.95,1)"><text x="0.00" y="0.00" font-size="28.5" font-family="Liberation Serif, serif" text-anchor="start" >B</text></g><g transform="translate(206.2,314.3) scale(1.08,1)"><text x="0.00" y="0.00" font-size="27" font-family="Liberation Serif, serif" text-anchor="start" stroke="#000" stroke-width="0.35">&#969;</text></g><text x="233.00" y="314.30" font-size="21" font-family="Liberation Serif, serif" text-anchor="start" >[deg]</text><g transform="translate(25.2,197.9) rotate(-90)"><text x="0.00" y="0.00" font-size="23" font-family="Liberation Serif, serif" text-anchor="start" >d<tspan font-size="15.5" dy="4.5">NW</tspan><tspan dy="-4.5" dx="3.5" letter-spacing="0.5">[nm]</tspan></text></g><g transform="translate(19.6,477.0) rotate(-90)"><text x="0.00" y="0.00" font-size="26" font-family="Liberation Serif, serif" text-anchor="start" >&#916;Z</text></g><g transform="translate(19.5,434.5) rotate(-90)"><text x="0.00" y="0.00" font-size="21.5" font-family="Liberation Serif, serif" text-anchor="start" >[nm]</text></g><g transform="translate(459.0,176.0) rotate(-90) scale(1.2,1.24)"><text x="0.00" y="0.00" font-size="24" font-family="Liberation Serif, serif" text-anchor="start" >&#958;</text></g><g transform="translate(458.8,155.0) rotate(-90)"><text x="0.00" y="0.00" font-size="22" font-family="Liberation Serif, serif" text-anchor="start" >[deg]</text></g><text x="213.00" y="9.50" font-size="12.5" font-family="Liberation Serif, serif" text-anchor="start" >6 fold</text><text x="213.00" y="24.90" font-size="12.5" font-family="Liberation Serif, serif" text-anchor="start" >3 fold</text><text x="272.30" y="28.00" font-size="13.5" font-family="Liberation Serif, serif" text-anchor="start" ><tspan font-style="italic">r</tspan><tspan font-size="8" dy="3">&#8211;</tspan><tspan dy="-3"> = 23 </tspan><tspan font-style="italic">nm</tspan></text><text x="272.30" y="43.50" font-size="13.5" font-family="Liberation Serif, serif" text-anchor="start" ><tspan font-style="italic">r</tspan><tspan font-size="8" dy="3">+</tspan><tspan dy="-3"> = 27.6 </tspan><tspan font-style="italic">nm</tspan></text><text x="110.70" y="342.40" font-size="14.3" font-family="Liberation Serif, serif" text-anchor="start" ><tspan font-style="italic">R</tspan><tspan font-size="9" dy="3">1</tspan><tspan dy="-3">= 40</tspan><tspan font-style="italic" letter-spacing="1.2">nm</tspan></text><text x="110.30" y="360.60" font-size="14.3" font-family="Liberation Serif, serif" text-anchor="start" >&#916;<tspan font-style="italic">z</tspan><tspan font-size="8" dy="3">+</tspan><tspan dy="-3"> = &#8722;4</tspan></text><text x="110.30" y="381.00" font-size="14.3" font-family="Liberation Serif, serif" text-anchor="start" >&#916;<tspan font-style="italic">z</tspan><tspan font-size="8" dy="3">+</tspan><tspan dy="-3"> = &#8722;2</tspan></text></svg>
</body></html>
